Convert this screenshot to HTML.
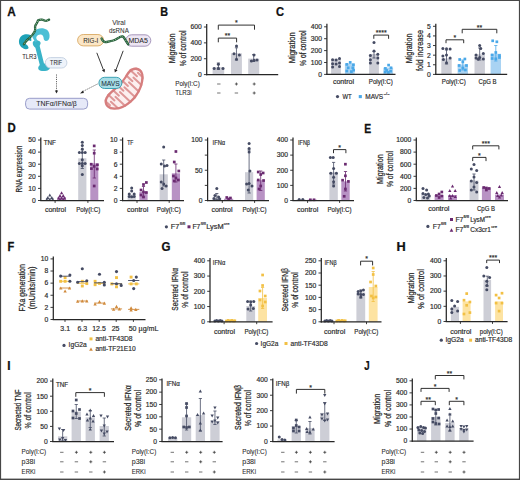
<!DOCTYPE html>
<html><head><meta charset="utf-8"><title>Figure</title>
<style>
html,body{margin:0;padding:0;background:#fff;}
body{width:520px;height:480px;overflow:hidden;}
svg{display:block;font-family:"Liberation Sans", sans-serif;}
</style></head>
<body>
<svg width="520" height="480" viewBox="0 0 520 480">
<rect x="0" y="0" width="520" height="480" fill="#fff"/>
<text x="0" y="0" font-size="12.0" font-weight="bold" fill="#111" stroke="#111" stroke-width="0.25" transform="translate(7.21,15.50) scale(0.981,1)">A</text>
<g>
<path d="M30.9,35.3 C28,33.7 24.5,34 22,35.6 C19.5,37.2 18.5,40.5 19.1,43.3 C19.7,46.2 22.5,48.8 25.7,49.2 C27.3,49.4 28.8,48.6 28.5,47.5 C28.2,46.3 27.6,45.3 26.6,44.7 C25.2,43.8 24.2,42.7 24.6,41.4 C25,40.2 26.4,39.7 27.8,40.1 C29.2,40.5 30.3,41.3 31.4,40.8 Z" fill="#1ea2b7"/>
<path d="M32.8,42.2 C33.6,40.6 35.8,40 37.8,40.4 C39.6,40.8 40.9,41.9 40.6,43.4 C40.4,44.6 39.5,45.4 39.8,46.6 L44,63.6 C46.4,63.8 49.6,65 50,67.2 C50.2,69.2 47.8,70.9 45.2,70.9 C42.8,71.3 39.8,70.9 38.6,69.5 C37.6,68.1 38.6,66.1 39.8,65.1 L35.4,47.8 C33.8,46.6 32.4,44.6 32.8,42.2 Z" fill="#39b3c8"/>
<path d="M32.4,37.2 C32.8,33.5 34.5,30.4 37.5,29 C40.5,27.6 44.5,28 47,29.8 C49,31.4 49.9,34.2 49.5,37.2 C49.2,39.4 48,41.1 46,41.1 C44.5,41.1 43.6,39.7 43.6,38.1 C43.6,36.5 42.6,34.8 41,34.5 C39.2,34.2 37.4,35 36.6,36.6 C35.9,38 36.4,39.5 37.6,40.4 L35.4,42.6 Z" fill="#4cbfd5"/>
<path d="M23.9,44.2 C25.5,41.6 27,40 28.3,39 C30,37.5 31.5,36 32.6,34.6 C33.8,33 34.8,31.8 35.1,30.2 C35.3,28.8 35,27.6 35.1,26.5 C35.3,25 36.4,23.8 37,22.8 C37.5,21.8 37.6,20.8 38.3,20.2 C39.4,19.4 40.8,19.6 42,19.6 C43.3,19.6 44.5,20.9 45.8,20.9 C47,20.9 48,19.8 49.1,19.6" fill="none" stroke="#1f5a37" stroke-width="2.3" stroke-linecap="round"/>
<path d="M23.9,44.2 C25.5,41.6 27,40 28.3,39 C30,37.5 31.5,36 32.6,34.6 C33.8,33 34.8,31.8 35.1,30.2 C35.3,28.8 35,27.6 35.1,26.5 C35.3,25 36.4,23.8 37,22.8 C37.5,21.8 37.6,20.8 38.3,20.2 C39.4,19.4 40.8,19.6 42,19.6 C43.3,19.6 44.5,20.9 45.8,20.9 C47,20.9 48,19.8 49.1,19.6" fill="none" stroke="#b5dcae" stroke-width="0.8" stroke-dasharray="1.0,0.9"/>
</g>
<text x="22.20" y="58.60" font-size="6.6" text-anchor="start" fill="#2a2a2a" font-weight="normal" stroke="#2a2a2a" stroke-width="0.06" textLength="14.2" lengthAdjust="spacingAndGlyphs" >TLR3</text>
<rect x="45.3" y="57.6" width="21.6" height="10.4" rx="5.2" fill="#eef3fa" stroke="#c2cfe0" stroke-width="0.9"/>
<text x="56.10" y="65.20" font-size="6.6" text-anchor="middle" fill="#2a2a2a" font-weight="normal" stroke="#2a2a2a" stroke-width="0.06" textLength="12" lengthAdjust="spacingAndGlyphs" >TRIF</text>
<line x1="56.50" y1="74.50" x2="56.50" y2="91.00" stroke="#333" stroke-width="0.8" stroke-dasharray="1.1,1.1"/>
<polygon points="54.9,90.4 58.1,90.4 56.5,93.6" fill="#222"/>
<rect x="25.6" y="98.3" width="62" height="10.8" rx="4" fill="#e6e9f8" stroke="#8e93c4" stroke-width="0.9"/>
<text x="56.60" y="106.10" font-size="7.2" text-anchor="middle" fill="#2a2a2a" font-weight="normal" stroke="#2a2a2a" stroke-width="0.06" textLength="40.5" lengthAdjust="spacingAndGlyphs" >TNF&#945;/IFN&#945;/&#946;</text>
<text x="118.90" y="25.00" font-size="6.8" text-anchor="middle" fill="#333" font-weight="normal" stroke="#333" stroke-width="0.06" textLength="13.2" lengthAdjust="spacingAndGlyphs" >Viral</text>
<text x="118.90" y="32.60" font-size="6.8" text-anchor="middle" fill="#333" font-weight="normal" stroke="#333" stroke-width="0.06" textLength="19.8" lengthAdjust="spacingAndGlyphs" >dsRNA</text>
<rect x="77.6" y="34.5" width="26" height="11.4" rx="5.7" fill="#fbe6c6" stroke="#d9a963" stroke-width="0.9"/>
<text x="90.80" y="42.80" font-size="7.0" text-anchor="middle" fill="#2a2a2a" font-weight="normal" stroke="#2a2a2a" stroke-width="0.06" textLength="15.0" lengthAdjust="spacingAndGlyphs" >RIG-I</text>
<rect x="125.8" y="34.8" width="25" height="11.4" rx="5.7" fill="#ede6f3" stroke="#9d8cb4" stroke-width="0.9"/>
<text x="138.20" y="43.00" font-size="7.0" text-anchor="middle" fill="#2a2a2a" font-weight="normal" stroke="#2a2a2a" stroke-width="0.06" textLength="19.5" lengthAdjust="spacingAndGlyphs" >MDA5</text>
<path d="M101.6,38.6 C102.4,40.6 103.6,42 105.4,42.1 C107.4,42.2 108.6,41.2 110.4,41.1 C112.2,41 113.2,40.6 114.6,40 C116.4,39.2 117.6,38.2 119.2,37.5 C120.6,36.8 121.6,36 122.6,36.4 C124,37 125,39.2 126.2,41.2 C126.9,42.4 127.6,43.6 128.3,44.3" fill="none" stroke="#1f5a37" stroke-width="2.4" stroke-linecap="round"/>
<path d="M101.6,38.6 C102.4,40.6 103.6,42 105.4,42.1 C107.4,42.2 108.6,41.2 110.4,41.1 C112.2,41 113.2,40.6 114.6,40 C116.4,39.2 117.6,38.2 119.2,37.5 C120.6,36.8 121.6,36 122.6,36.4 C124,37 125,39.2 126.2,41.2 C126.9,42.4 127.6,43.6 128.3,44.3" fill="none" stroke="#b5dcae" stroke-width="0.8" stroke-dasharray="1.0,0.9"/>
<line x1="96.80" y1="52.80" x2="103.40" y2="69.80" stroke="#222" stroke-width="0.9" />
<polygon points="101.9,70.2 105.0,69.0 104.6,72.6" fill="#222"/>
<line x1="123.20" y1="50.80" x2="116.00" y2="69.80" stroke="#222" stroke-width="0.9" />
<polygon points="114.4,69.0 117.6,70.2 114.8,72.6" fill="#222"/>
<clipPath id="mc"><path d="M135,67.6 C139.8,67.3 143.5,71 143.6,76.2 C143.8,83.2 141,91.2 135.5,98.2 C130,104.7 122,109.8 114.5,109.8 C108.3,109.8 104.3,106 104.6,101 C104.9,96.4 108.8,92.4 113.9,88.4 C118.9,84.4 122.4,80.4 125.4,75.4 C127.9,70.9 130.7,67.8 135,67.6 Z"/></clipPath>
<g clip-path="url(#mc)">
<rect x="100" y="62" width="50" height="52" fill="#fcefef"/>
<g transform="translate(124.3,88.6) rotate(-47)">
<rect x="-23.00" y="-16" width="2.0" height="17.8" rx="0.9" fill="#de9898"/>
<rect x="-19.70" y="-1.8" width="2.0" height="17.8" rx="0.9" fill="#de9898"/>
<rect x="-16.40" y="-16" width="2.0" height="17.8" rx="0.9" fill="#de9898"/>
<rect x="-13.10" y="-1.8" width="2.0" height="17.8" rx="0.9" fill="#de9898"/>
<rect x="-9.80" y="-16" width="2.0" height="17.8" rx="0.9" fill="#de9898"/>
<rect x="-6.50" y="-1.8" width="2.0" height="17.8" rx="0.9" fill="#de9898"/>
<rect x="-3.20" y="-16" width="2.0" height="17.8" rx="0.9" fill="#de9898"/>
<rect x="0.10" y="-1.8" width="2.0" height="17.8" rx="0.9" fill="#de9898"/>
<rect x="3.40" y="-16" width="2.0" height="17.8" rx="0.9" fill="#de9898"/>
<rect x="6.70" y="-1.8" width="2.0" height="17.8" rx="0.9" fill="#de9898"/>
<rect x="10.00" y="-16" width="2.0" height="17.8" rx="0.9" fill="#de9898"/>
<rect x="13.30" y="-1.8" width="2.0" height="17.8" rx="0.9" fill="#de9898"/>
<rect x="16.60" y="-16" width="2.0" height="17.8" rx="0.9" fill="#de9898"/>
<rect x="19.90" y="-1.8" width="2.0" height="17.8" rx="0.9" fill="#de9898"/>
<rect x="23.20" y="-16" width="2.0" height="17.8" rx="0.9" fill="#de9898"/>
</g>
<path d="M135,67.6 C139.8,67.3 143.5,71 143.6,76.2 C143.8,83.2 141,91.2 135.5,98.2 C130,104.7 122,109.8 114.5,109.8 C108.3,109.8 104.3,106 104.6,101 C104.9,96.4 108.8,92.4 113.9,88.4 C118.9,84.4 122.4,80.4 125.4,75.4 C127.9,70.9 130.7,67.8 135,67.6 Z" fill="none" stroke="#d67e7e" stroke-width="4.6"/>
</g>
<rect x="98.9" y="77.3" width="23" height="11.2" rx="5.6" fill="#a7dde6" stroke="#2d9aad" stroke-width="0.9"/>
<text x="110.40" y="85.60" font-size="7.2" text-anchor="middle" fill="#1f3440" font-weight="normal" stroke="#1f3440" stroke-width="0.06" textLength="18.5" lengthAdjust="spacingAndGlyphs" >MAVS</text>
<line x1="97.50" y1="84.00" x2="82.20" y2="91.80" stroke="#333" stroke-width="0.8" stroke-dasharray="1.1,1.1"/>
<polygon points="80.0,93.4 82.9,90.4 83.9,93.0" fill="#222"/>
<text x="0" y="0" font-size="12.0" font-weight="bold" fill="#111" stroke="#111" stroke-width="0.25" transform="translate(160.18,15.50) scale(0.902,1)">B</text>
<text x="0" y="0" font-size="9.2" text-anchor="middle" fill="#2b2b2b" stroke="#2b2b2b" stroke-width="0.25" transform="translate(175.00,48.30) rotate(-90)" textLength="29.8" lengthAdjust="spacingAndGlyphs">Migration</text>
<text x="0" y="0" font-size="9.2" text-anchor="middle" fill="#2b2b2b" stroke="#2b2b2b" stroke-width="0.25" transform="translate(185.50,48.40) rotate(-90)" textLength="35.8" lengthAdjust="spacingAndGlyphs">% of control</text>
<rect x="212.60" y="67.20" width="11.60" height="7.40" fill="#cdced6" />
<line x1="218.40" y1="63.00" x2="218.40" y2="69.50" stroke="#454b63" stroke-width="0.8" />
<line x1="216.80" y1="63.00" x2="220.00" y2="63.00" stroke="#454b63" stroke-width="0.8" />
<line x1="216.80" y1="69.50" x2="220.00" y2="69.50" stroke="#454b63" stroke-width="0.8" />
<circle cx="214.20" cy="68.40" r="1.5" fill="#454b63"/>
<circle cx="218.40" cy="64.30" r="1.5" fill="#454b63"/>
<circle cx="223.00" cy="68.40" r="1.5" fill="#454b63"/>
<circle cx="218.40" cy="68.20" r="1.5" fill="#454b63"/>
<rect x="231.00" y="53.30" width="10.90" height="21.30" fill="#cdced6" />
<line x1="236.45" y1="47.80" x2="236.45" y2="60.00" stroke="#454b63" stroke-width="0.8" />
<line x1="234.85" y1="47.80" x2="238.05" y2="47.80" stroke="#454b63" stroke-width="0.8" />
<line x1="234.85" y1="60.00" x2="238.05" y2="60.00" stroke="#454b63" stroke-width="0.8" />
<circle cx="236.50" cy="46.00" r="1.5" fill="#454b63"/>
<circle cx="234.00" cy="53.80" r="1.5" fill="#454b63"/>
<circle cx="239.40" cy="55.00" r="1.5" fill="#454b63"/>
<circle cx="236.50" cy="59.30" r="1.5" fill="#454b63"/>
<rect x="248.20" y="58.60" width="11.00" height="16.00" fill="#cdced6" />
<line x1="253.70" y1="54.60" x2="253.70" y2="61.50" stroke="#454b63" stroke-width="0.8" />
<line x1="252.10" y1="54.60" x2="255.30" y2="54.60" stroke="#454b63" stroke-width="0.8" />
<line x1="252.10" y1="61.50" x2="255.30" y2="61.50" stroke="#454b63" stroke-width="0.8" />
<circle cx="254.00" cy="55.00" r="1.5" fill="#454b63"/>
<circle cx="251.40" cy="61.00" r="1.5" fill="#454b63"/>
<circle cx="257.00" cy="59.90" r="1.5" fill="#454b63"/>
<circle cx="254.00" cy="60.20" r="1.5" fill="#454b63"/>
<line x1="206.70" y1="24.00" x2="206.70" y2="75.22" stroke="#262626" stroke-width="1.25" />
<line x1="206.07" y1="74.60" x2="278.20" y2="74.60" stroke="#262626" stroke-width="1.25" />
<line x1="203.90" y1="74.60" x2="206.70" y2="74.60" stroke="#262626" stroke-width="0.9" />
<text x="201.70" y="76.94" font-size="6.5" text-anchor="end" fill="#2b2b2b" font-weight="normal" stroke="#2b2b2b" stroke-width="0.18" textLength="3.75" lengthAdjust="spacingAndGlyphs" >0</text>
<line x1="203.90" y1="58.73" x2="206.70" y2="58.73" stroke="#262626" stroke-width="0.9" />
<text x="201.70" y="61.07" font-size="6.5" text-anchor="end" fill="#2b2b2b" font-weight="normal" stroke="#2b2b2b" stroke-width="0.18" textLength="11.25" lengthAdjust="spacingAndGlyphs" >200</text>
<line x1="203.90" y1="42.87" x2="206.70" y2="42.87" stroke="#262626" stroke-width="0.9" />
<text x="201.70" y="45.21" font-size="6.5" text-anchor="end" fill="#2b2b2b" font-weight="normal" stroke="#2b2b2b" stroke-width="0.18" textLength="11.25" lengthAdjust="spacingAndGlyphs" >400</text>
<line x1="203.90" y1="27.00" x2="206.70" y2="27.00" stroke="#262626" stroke-width="0.9" />
<text x="201.70" y="29.34" font-size="6.5" text-anchor="end" fill="#2b2b2b" font-weight="normal" stroke="#2b2b2b" stroke-width="0.18" textLength="11.25" lengthAdjust="spacingAndGlyphs" >600</text>
<polyline points="218.30,42.30 218.30,38.10 236.60,38.10 236.60,42.30" fill="none" stroke="#262626" stroke-width="0.95"/>
<text x="227.45" y="38.30" font-size="7" text-anchor="middle" fill="#2b2b2b" font-weight="normal" stroke="#2b2b2b" stroke-width="0.18" >**</text>
<polyline points="218.30,29.70 218.30,25.10 254.50,25.10 254.50,29.70" fill="none" stroke="#262626" stroke-width="0.95"/>
<text x="236.40" y="25.30" font-size="7" text-anchor="middle" fill="#2b2b2b" font-weight="normal" stroke="#2b2b2b" stroke-width="0.18" >*</text>
<text x="175.20" y="85.90" font-size="6.5" text-anchor="start" fill="#2b2b2b" font-weight="normal" stroke="#2b2b2b" stroke-width="0.08" textLength="24.6" lengthAdjust="spacingAndGlyphs" >Poly(I:C)</text>
<text x="175.20" y="94.80" font-size="6.5" text-anchor="start" fill="#2b2b2b" font-weight="normal" stroke="#2b2b2b" stroke-width="0.08" textLength="16.4" lengthAdjust="spacingAndGlyphs" >TLR3i</text>
<line x1="217.10" y1="84.00" x2="220.50" y2="84.00" stroke="#444" stroke-width="0.75" />
<line x1="217.10" y1="93.00" x2="220.50" y2="93.00" stroke="#444" stroke-width="0.75" />
<line x1="234.90" y1="84.00" x2="237.90" y2="84.00" stroke="#333" stroke-width="0.75" />
<line x1="236.40" y1="82.50" x2="236.40" y2="85.50" stroke="#333" stroke-width="0.75" />
<line x1="234.70" y1="93.00" x2="238.10" y2="93.00" stroke="#444" stroke-width="0.75" />
<line x1="252.70" y1="84.00" x2="255.70" y2="84.00" stroke="#333" stroke-width="0.75" />
<line x1="254.20" y1="82.50" x2="254.20" y2="85.50" stroke="#333" stroke-width="0.75" />
<line x1="252.70" y1="93.00" x2="255.70" y2="93.00" stroke="#333" stroke-width="0.75" />
<line x1="254.20" y1="91.50" x2="254.20" y2="94.50" stroke="#333" stroke-width="0.75" />
<text x="0" y="0" font-size="12.0" font-weight="bold" fill="#111" stroke="#111" stroke-width="0.25" transform="translate(275.94,15.60) scale(0.930,1)">C</text>
<text x="0" y="0" font-size="9.2" text-anchor="middle" fill="#2b2b2b" stroke="#2b2b2b" stroke-width="0.25" transform="translate(295.00,47.80) rotate(-90)" textLength="31.0" lengthAdjust="spacingAndGlyphs">Migration</text>
<text x="0" y="0" font-size="9.2" text-anchor="middle" fill="#2b2b2b" stroke="#2b2b2b" stroke-width="0.25" transform="translate(305.50,48.20) rotate(-90)" textLength="35.4" lengthAdjust="spacingAndGlyphs">% of control</text>
<rect x="331.10" y="58.80" width="9.80" height="15.60" fill="#cdced6" />
<circle cx="332.60" cy="59.70" r="1.5" fill="#454b63"/>
<circle cx="336.10" cy="60.00" r="1.5" fill="#454b63"/>
<circle cx="339.50" cy="58.60" r="1.5" fill="#454b63"/>
<circle cx="332.60" cy="63.70" r="1.5" fill="#454b63"/>
<circle cx="336.10" cy="63.90" r="1.5" fill="#454b63"/>
<circle cx="339.50" cy="63.00" r="1.5" fill="#454b63"/>
<circle cx="332.60" cy="67.10" r="1.5" fill="#454b63"/>
<circle cx="339.50" cy="66.40" r="1.5" fill="#454b63"/>
<rect x="344.90" y="63.50" width="9.80" height="10.90" fill="#a9d3f3" />
<rect x="348.85" y="61.05" width="2.7" height="2.7" fill="#4aa8e8"/>
<rect x="345.45" y="63.05" width="2.7" height="2.7" fill="#4aa8e8"/>
<rect x="352.05" y="63.45" width="2.7" height="2.7" fill="#4aa8e8"/>
<rect x="346.85" y="66.45" width="2.7" height="2.7" fill="#4aa8e8"/>
<rect x="351.45" y="66.45" width="2.7" height="2.7" fill="#4aa8e8"/>
<rect x="345.45" y="69.65" width="2.7" height="2.7" fill="#4aa8e8"/>
<rect x="350.05" y="70.25" width="2.7" height="2.7" fill="#4aa8e8"/>
<rect x="352.25" y="68.85" width="2.7" height="2.7" fill="#4aa8e8"/>
<rect x="369.10" y="54.00" width="9.80" height="20.40" fill="#cdced6" />
<line x1="374.00" y1="51.50" x2="374.00" y2="58.00" stroke="#454b63" stroke-width="0.8" />
<line x1="372.40" y1="51.50" x2="375.60" y2="51.50" stroke="#454b63" stroke-width="0.8" />
<line x1="372.40" y1="58.00" x2="375.60" y2="58.00" stroke="#454b63" stroke-width="0.8" />
<circle cx="374.00" cy="42.50" r="1.5" fill="#454b63"/>
<circle cx="374.00" cy="50.90" r="1.5" fill="#454b63"/>
<circle cx="370.40" cy="55.60" r="1.5" fill="#454b63"/>
<circle cx="377.80" cy="54.30" r="1.5" fill="#454b63"/>
<circle cx="370.40" cy="59.70" r="1.5" fill="#454b63"/>
<circle cx="377.80" cy="58.10" r="1.5" fill="#454b63"/>
<circle cx="370.40" cy="63.10" r="1.5" fill="#454b63"/>
<circle cx="377.80" cy="63.10" r="1.5" fill="#454b63"/>
<rect x="383.30" y="67.60" width="9.80" height="6.80" fill="#a9d3f3" />
<rect x="387.25" y="63.75" width="2.7" height="2.7" fill="#4aa8e8"/>
<rect x="384.05" y="67.05" width="2.7" height="2.7" fill="#4aa8e8"/>
<rect x="389.65" y="66.45" width="2.7" height="2.7" fill="#4aa8e8"/>
<rect x="385.25" y="69.05" width="2.7" height="2.7" fill="#4aa8e8"/>
<rect x="389.25" y="69.85" width="2.7" height="2.7" fill="#4aa8e8"/>
<rect x="383.85" y="70.65" width="2.7" height="2.7" fill="#4aa8e8"/>
<rect x="387.05" y="71.05" width="2.7" height="2.7" fill="#4aa8e8"/>
<line x1="326.90" y1="23.80" x2="326.90" y2="75.03" stroke="#262626" stroke-width="1.25" />
<line x1="326.27" y1="74.40" x2="395.50" y2="74.40" stroke="#262626" stroke-width="1.25" />
<line x1="324.10" y1="74.40" x2="326.90" y2="74.40" stroke="#262626" stroke-width="0.9" />
<text x="321.90" y="76.74" font-size="6.5" text-anchor="end" fill="#2b2b2b" font-weight="normal" stroke="#2b2b2b" stroke-width="0.18" textLength="3.75" lengthAdjust="spacingAndGlyphs" >0</text>
<line x1="324.10" y1="62.50" x2="326.90" y2="62.50" stroke="#262626" stroke-width="0.9" />
<text x="321.90" y="64.84" font-size="6.5" text-anchor="end" fill="#2b2b2b" font-weight="normal" stroke="#2b2b2b" stroke-width="0.18" textLength="11.25" lengthAdjust="spacingAndGlyphs" >100</text>
<line x1="324.10" y1="50.60" x2="326.90" y2="50.60" stroke="#262626" stroke-width="0.9" />
<text x="321.90" y="52.94" font-size="6.5" text-anchor="end" fill="#2b2b2b" font-weight="normal" stroke="#2b2b2b" stroke-width="0.18" textLength="11.25" lengthAdjust="spacingAndGlyphs" >200</text>
<line x1="324.10" y1="38.70" x2="326.90" y2="38.70" stroke="#262626" stroke-width="0.9" />
<text x="321.90" y="41.04" font-size="6.5" text-anchor="end" fill="#2b2b2b" font-weight="normal" stroke="#2b2b2b" stroke-width="0.18" textLength="11.25" lengthAdjust="spacingAndGlyphs" >300</text>
<line x1="324.10" y1="26.80" x2="326.90" y2="26.80" stroke="#262626" stroke-width="0.9" />
<text x="321.90" y="29.14" font-size="6.5" text-anchor="end" fill="#2b2b2b" font-weight="normal" stroke="#2b2b2b" stroke-width="0.18" textLength="11.25" lengthAdjust="spacingAndGlyphs" >400</text>
<polyline points="373.80,38.80 373.80,35.10 388.60,35.10 388.60,38.80" fill="none" stroke="#262626" stroke-width="0.95"/>
<text x="381.20" y="35.30" font-size="7" text-anchor="middle" fill="#2b2b2b" font-weight="normal" stroke="#2b2b2b" stroke-width="0.18" >****</text>
<text x="343.50" y="84.00" font-size="7.0" text-anchor="middle" fill="#2b2b2b" font-weight="normal" stroke="#2b2b2b" stroke-width="0.18" textLength="21.2" lengthAdjust="spacingAndGlyphs" >control</text>
<text x="380.80" y="84.00" font-size="7.0" text-anchor="middle" fill="#2b2b2b" font-weight="normal" stroke="#2b2b2b" stroke-width="0.18" textLength="24.0" lengthAdjust="spacingAndGlyphs" >Poly(I:C)</text>
<circle cx="337.50" cy="96.60" r="1.6" fill="#454b63"/>
<text x="342.40" y="98.60" font-size="7.0" text-anchor="start" fill="#2b2b2b" font-weight="normal" stroke="#2b2b2b" stroke-width="0.18" textLength="9.2" lengthAdjust="spacingAndGlyphs" >WT</text>
<rect x="358.75" y="95.05" width="3.1" height="3.1" fill="#4aa8e8"/>
<text x="365.30" y="98.60" font-size="7.0" text-anchor="start" fill="#2b2b2b" font-weight="normal" stroke="#2b2b2b" stroke-width="0.18" textLength="17.9" lengthAdjust="spacingAndGlyphs" >MAVS</text>
<text x="383.80" y="94.90" font-size="4.0" text-anchor="start" fill="#2b2b2b" font-weight="normal" stroke="#2b2b2b" stroke-width="0.18" textLength="5.6" lengthAdjust="spacingAndGlyphs" >&#8211;/&#8211;</text>
<text x="0" y="0" font-size="9.2" text-anchor="middle" fill="#2b2b2b" stroke="#2b2b2b" stroke-width="0.25" transform="translate(411.60,48.40) rotate(-90)" textLength="29.8" lengthAdjust="spacingAndGlyphs">Migration</text>
<text x="0" y="0" font-size="9.2" text-anchor="middle" fill="#2b2b2b" stroke="#2b2b2b" stroke-width="0.25" transform="translate(422.80,50.60) rotate(-90)" textLength="41.0" lengthAdjust="spacingAndGlyphs">fold increase</text>
<rect x="441.30" y="58.40" width="10.40" height="16.00" fill="#cdced6" />
<line x1="446.50" y1="50.00" x2="446.50" y2="64.00" stroke="#454b63" stroke-width="0.8" />
<line x1="444.90" y1="50.00" x2="448.10" y2="50.00" stroke="#454b63" stroke-width="0.8" />
<line x1="444.90" y1="64.00" x2="448.10" y2="64.00" stroke="#454b63" stroke-width="0.8" />
<circle cx="442.86" cy="48.50" r="1.5" fill="#454b63"/>
<circle cx="446.50" cy="48.80" r="1.5" fill="#454b63"/>
<circle cx="450.14" cy="49.00" r="1.5" fill="#454b63"/>
<circle cx="442.86" cy="56.00" r="1.5" fill="#454b63"/>
<circle cx="446.50" cy="55.00" r="1.5" fill="#454b63"/>
<circle cx="450.14" cy="58.00" r="1.5" fill="#454b63"/>
<circle cx="446.50" cy="62.80" r="1.5" fill="#454b63"/>
<circle cx="443.38" cy="59.50" r="1.5" fill="#454b63"/>
<rect x="457.60" y="64.40" width="10.40" height="10.00" fill="#a9d3f3" />
<line x1="462.80" y1="60.00" x2="462.80" y2="70.00" stroke="#4aa8e8" stroke-width="0.8" />
<line x1="461.20" y1="60.00" x2="464.40" y2="60.00" stroke="#4aa8e8" stroke-width="0.8" />
<line x1="461.20" y1="70.00" x2="464.40" y2="70.00" stroke="#4aa8e8" stroke-width="0.8" />
<rect x="458.33" y="58.15" width="2.7" height="2.7" fill="#4aa8e8"/>
<rect x="463.53" y="57.65" width="2.7" height="2.7" fill="#4aa8e8"/>
<rect x="461.45" y="60.65" width="2.7" height="2.7" fill="#4aa8e8"/>
<rect x="457.81" y="64.15" width="2.7" height="2.7" fill="#4aa8e8"/>
<rect x="465.09" y="64.15" width="2.7" height="2.7" fill="#4aa8e8"/>
<rect x="461.45" y="66.65" width="2.7" height="2.7" fill="#4aa8e8"/>
<rect x="458.33" y="69.15" width="2.7" height="2.7" fill="#4aa8e8"/>
<rect x="464.05" y="68.65" width="2.7" height="2.7" fill="#4aa8e8"/>
<rect x="474.50" y="54.40" width="10.40" height="20.00" fill="#cdced6" />
<line x1="479.70" y1="48.00" x2="479.70" y2="60.00" stroke="#454b63" stroke-width="0.8" />
<line x1="478.10" y1="48.00" x2="481.30" y2="48.00" stroke="#454b63" stroke-width="0.8" />
<line x1="478.10" y1="60.00" x2="481.30" y2="60.00" stroke="#454b63" stroke-width="0.8" />
<circle cx="479.70" cy="45.50" r="1.5" fill="#454b63"/>
<circle cx="480.74" cy="48.50" r="1.5" fill="#454b63"/>
<circle cx="476.06" cy="55.00" r="1.5" fill="#454b63"/>
<circle cx="483.34" cy="53.50" r="1.5" fill="#454b63"/>
<circle cx="476.06" cy="58.00" r="1.5" fill="#454b63"/>
<circle cx="479.70" cy="57.50" r="1.5" fill="#454b63"/>
<circle cx="483.34" cy="59.00" r="1.5" fill="#454b63"/>
<circle cx="478.14" cy="59.20" r="1.5" fill="#454b63"/>
<rect x="490.60" y="53.80" width="10.40" height="20.60" fill="#a9d3f3" />
<line x1="495.80" y1="45.50" x2="495.80" y2="61.00" stroke="#4aa8e8" stroke-width="0.8" />
<line x1="494.20" y1="45.50" x2="497.40" y2="45.50" stroke="#4aa8e8" stroke-width="0.8" />
<line x1="494.20" y1="61.00" x2="497.40" y2="61.00" stroke="#4aa8e8" stroke-width="0.8" />
<rect x="491.33" y="39.45" width="2.7" height="2.7" fill="#4aa8e8"/>
<rect x="495.49" y="40.45" width="2.7" height="2.7" fill="#4aa8e8"/>
<rect x="494.45" y="51.15" width="2.7" height="2.7" fill="#4aa8e8"/>
<rect x="490.81" y="53.65" width="2.7" height="2.7" fill="#4aa8e8"/>
<rect x="498.09" y="54.15" width="2.7" height="2.7" fill="#4aa8e8"/>
<rect x="490.81" y="57.15" width="2.7" height="2.7" fill="#4aa8e8"/>
<rect x="494.45" y="57.45" width="2.7" height="2.7" fill="#4aa8e8"/>
<rect x="498.09" y="56.15" width="2.7" height="2.7" fill="#4aa8e8"/>
<line x1="435.80" y1="23.80" x2="435.80" y2="75.03" stroke="#262626" stroke-width="1.25" />
<line x1="435.18" y1="74.40" x2="507.20" y2="74.40" stroke="#262626" stroke-width="1.25" />
<line x1="433.00" y1="74.40" x2="435.80" y2="74.40" stroke="#262626" stroke-width="0.9" />
<text x="430.80" y="76.74" font-size="6.5" text-anchor="end" fill="#2b2b2b" font-weight="normal" stroke="#2b2b2b" stroke-width="0.18" textLength="3.75" lengthAdjust="spacingAndGlyphs" >0</text>
<line x1="433.00" y1="64.78" x2="435.80" y2="64.78" stroke="#262626" stroke-width="0.9" />
<text x="430.80" y="67.12" font-size="6.5" text-anchor="end" fill="#2b2b2b" font-weight="normal" stroke="#2b2b2b" stroke-width="0.18" textLength="3.75" lengthAdjust="spacingAndGlyphs" >1</text>
<line x1="433.00" y1="55.16" x2="435.80" y2="55.16" stroke="#262626" stroke-width="0.9" />
<text x="430.80" y="57.50" font-size="6.5" text-anchor="end" fill="#2b2b2b" font-weight="normal" stroke="#2b2b2b" stroke-width="0.18" textLength="3.75" lengthAdjust="spacingAndGlyphs" >2</text>
<line x1="433.00" y1="45.54" x2="435.80" y2="45.54" stroke="#262626" stroke-width="0.9" />
<text x="430.80" y="47.88" font-size="6.5" text-anchor="end" fill="#2b2b2b" font-weight="normal" stroke="#2b2b2b" stroke-width="0.18" textLength="3.75" lengthAdjust="spacingAndGlyphs" >3</text>
<line x1="433.00" y1="35.92" x2="435.80" y2="35.92" stroke="#262626" stroke-width="0.9" />
<text x="430.80" y="38.26" font-size="6.5" text-anchor="end" fill="#2b2b2b" font-weight="normal" stroke="#2b2b2b" stroke-width="0.18" textLength="3.75" lengthAdjust="spacingAndGlyphs" >4</text>
<line x1="433.00" y1="26.30" x2="435.80" y2="26.30" stroke="#262626" stroke-width="0.9" />
<text x="430.80" y="28.64" font-size="6.5" text-anchor="end" fill="#2b2b2b" font-weight="normal" stroke="#2b2b2b" stroke-width="0.18" textLength="3.75" lengthAdjust="spacingAndGlyphs" >5</text>
<polyline points="446.00,43.20 446.00,39.80 463.70,39.80 463.70,43.20" fill="none" stroke="#262626" stroke-width="0.95"/>
<text x="454.85" y="40.00" font-size="7" text-anchor="middle" fill="#2b2b2b" font-weight="normal" stroke="#2b2b2b" stroke-width="0.18" >*</text>
<polyline points="462.20,33.30 462.20,29.30 496.80,29.30 496.80,33.30" fill="none" stroke="#262626" stroke-width="0.95"/>
<text x="479.50" y="29.50" font-size="7" text-anchor="middle" fill="#2b2b2b" font-weight="normal" stroke="#2b2b2b" stroke-width="0.18" >**</text>
<text x="453.80" y="84.00" font-size="7.0" text-anchor="middle" fill="#2b2b2b" font-weight="normal" stroke="#2b2b2b" stroke-width="0.18" textLength="24.0" lengthAdjust="spacingAndGlyphs" >Poly(I:C)</text>
<text x="487.60" y="84.00" font-size="7.0" text-anchor="middle" fill="#2b2b2b" font-weight="normal" stroke="#2b2b2b" stroke-width="0.18" textLength="18.0" lengthAdjust="spacingAndGlyphs" >CpG B</text>
<text x="0" y="0" font-size="12.0" font-weight="bold" fill="#111" stroke="#111" stroke-width="0.25" transform="translate(7.53,132.40) scale(0.952,1)">D</text>
<text x="0" y="0" font-size="9.2" text-anchor="middle" fill="#2b2b2b" stroke="#2b2b2b" stroke-width="0.25" transform="translate(21.60,169.00) rotate(-90)" textLength="46.8" lengthAdjust="spacingAndGlyphs">RNA expression</text>
<rect x="45.80" y="197.80" width="8.10" height="2.70" fill="#cdced6" />
<polygon points="48.15,196.49 51.45,196.49 49.80,193.51" fill="#454b63"/>
<polygon points="46.15,199.09 49.45,199.09 47.80,196.11" fill="#454b63"/>
<polygon points="50.15,199.09 53.45,199.09 51.80,196.11" fill="#454b63"/>
<polygon points="45.15,200.89 48.45,200.89 46.80,197.91" fill="#454b63"/>
<polygon points="48.15,200.89 51.45,200.89 49.80,197.91" fill="#454b63"/>
<polygon points="51.15,200.89 54.45,200.89 52.80,197.91" fill="#454b63"/>
<rect x="57.50" y="197.00" width="8.40" height="3.50" fill="#b892c4" />
<polygon points="59.95,194.29 63.25,194.29 61.60,191.31" fill="#6a2a70"/>
<polygon points="58.35,196.99 61.65,196.99 60.00,194.01" fill="#6a2a70"/>
<polygon points="61.55,196.99 64.85,196.99 63.20,194.01" fill="#6a2a70"/>
<polygon points="56.95,199.49 60.25,199.49 58.60,196.51" fill="#6a2a70"/>
<polygon points="59.95,199.49 63.25,199.49 61.60,196.51" fill="#6a2a70"/>
<polygon points="62.95,199.49 66.25,199.49 64.60,196.51" fill="#6a2a70"/>
<polygon points="58.35,201.09 61.65,201.09 60.00,198.11" fill="#6a2a70"/>
<polygon points="61.55,201.09 64.85,201.09 63.20,198.11" fill="#6a2a70"/>
<rect x="78.20" y="158.30" width="8.20" height="42.20" fill="#cdced6" />
<line x1="82.30" y1="149.80" x2="82.30" y2="168.50" stroke="#454b63" stroke-width="0.8" />
<line x1="80.70" y1="149.80" x2="83.90" y2="149.80" stroke="#454b63" stroke-width="0.8" />
<line x1="80.70" y1="168.50" x2="83.90" y2="168.50" stroke="#454b63" stroke-width="0.8" />
<circle cx="82.30" cy="142.30" r="1.5" fill="#454b63"/>
<circle cx="82.30" cy="145.40" r="1.5" fill="#454b63"/>
<circle cx="82.30" cy="148.90" r="1.5" fill="#454b63"/>
<circle cx="79.40" cy="152.50" r="1.5" fill="#454b63"/>
<circle cx="82.30" cy="152.50" r="1.5" fill="#454b63"/>
<circle cx="85.20" cy="152.50" r="1.5" fill="#454b63"/>
<circle cx="82.30" cy="159.80" r="1.5" fill="#454b63"/>
<circle cx="79.40" cy="163.40" r="1.5" fill="#454b63"/>
<circle cx="82.30" cy="163.40" r="1.5" fill="#454b63"/>
<circle cx="85.20" cy="163.40" r="1.5" fill="#454b63"/>
<circle cx="82.30" cy="165.80" r="1.5" fill="#454b63"/>
<circle cx="82.30" cy="174.40" r="1.5" fill="#454b63"/>
<rect x="90.30" y="163.40" width="8.00" height="37.10" fill="#b892c4" />
<line x1="94.30" y1="150.00" x2="94.30" y2="178.00" stroke="#6a2a70" stroke-width="0.8" />
<line x1="92.70" y1="150.00" x2="95.90" y2="150.00" stroke="#6a2a70" stroke-width="0.8" />
<line x1="92.70" y1="178.00" x2="95.90" y2="178.00" stroke="#6a2a70" stroke-width="0.8" />
<rect x="92.85" y="144.55" width="2.7" height="2.7" fill="#6a2a70"/>
<rect x="92.85" y="151.85" width="2.7" height="2.7" fill="#6a2a70"/>
<rect x="89.85" y="162.85" width="2.7" height="2.7" fill="#6a2a70"/>
<rect x="96.05" y="163.45" width="2.7" height="2.7" fill="#6a2a70"/>
<rect x="92.85" y="165.05" width="2.7" height="2.7" fill="#6a2a70"/>
<rect x="90.05" y="167.25" width="2.7" height="2.7" fill="#6a2a70"/>
<rect x="95.85" y="167.65" width="2.7" height="2.7" fill="#6a2a70"/>
<rect x="92.85" y="184.65" width="2.7" height="2.7" fill="#6a2a70"/>
<line x1="40.80" y1="137.50" x2="40.80" y2="201.12" stroke="#262626" stroke-width="1.25" />
<line x1="40.17" y1="200.50" x2="104.00" y2="200.50" stroke="#262626" stroke-width="1.25" />
<line x1="38.00" y1="200.50" x2="40.80" y2="200.50" stroke="#262626" stroke-width="0.9" />
<text x="35.80" y="202.84" font-size="6.5" text-anchor="end" fill="#2b2b2b" font-weight="normal" stroke="#2b2b2b" stroke-width="0.18" textLength="3.75" lengthAdjust="spacingAndGlyphs" >0</text>
<line x1="38.00" y1="188.40" x2="40.80" y2="188.40" stroke="#262626" stroke-width="0.9" />
<text x="35.80" y="190.74" font-size="6.5" text-anchor="end" fill="#2b2b2b" font-weight="normal" stroke="#2b2b2b" stroke-width="0.18" textLength="7.5" lengthAdjust="spacingAndGlyphs" >10</text>
<line x1="38.00" y1="176.30" x2="40.80" y2="176.30" stroke="#262626" stroke-width="0.9" />
<text x="35.80" y="178.64" font-size="6.5" text-anchor="end" fill="#2b2b2b" font-weight="normal" stroke="#2b2b2b" stroke-width="0.18" textLength="7.5" lengthAdjust="spacingAndGlyphs" >20</text>
<line x1="38.00" y1="164.20" x2="40.80" y2="164.20" stroke="#262626" stroke-width="0.9" />
<text x="35.80" y="166.54" font-size="6.5" text-anchor="end" fill="#2b2b2b" font-weight="normal" stroke="#2b2b2b" stroke-width="0.18" textLength="7.5" lengthAdjust="spacingAndGlyphs" >30</text>
<line x1="38.00" y1="152.10" x2="40.80" y2="152.10" stroke="#262626" stroke-width="0.9" />
<text x="35.80" y="154.44" font-size="6.5" text-anchor="end" fill="#2b2b2b" font-weight="normal" stroke="#2b2b2b" stroke-width="0.18" textLength="7.5" lengthAdjust="spacingAndGlyphs" >40</text>
<line x1="38.00" y1="140.00" x2="40.80" y2="140.00" stroke="#262626" stroke-width="0.9" />
<text x="35.80" y="142.34" font-size="6.5" text-anchor="end" fill="#2b2b2b" font-weight="normal" stroke="#2b2b2b" stroke-width="0.18" textLength="7.5" lengthAdjust="spacingAndGlyphs" >50</text>
<line x1="55.10" y1="200.50" x2="55.10" y2="202.90" stroke="#262626" stroke-width="0.9" />
<line x1="87.90" y1="200.50" x2="87.90" y2="202.90" stroke="#262626" stroke-width="0.9" />
<text x="43.70" y="145.40" font-size="6.6" text-anchor="start" fill="#2b2b2b" font-weight="normal" stroke="#2b2b2b" stroke-width="0.18" textLength="12.3" lengthAdjust="spacingAndGlyphs" >TNF</text>
<text x="55.50" y="212.20" font-size="7.0" text-anchor="middle" fill="#2b2b2b" font-weight="normal" stroke="#2b2b2b" stroke-width="0.18" textLength="21.2" lengthAdjust="spacingAndGlyphs" >control</text>
<text x="88.20" y="212.20" font-size="7.0" text-anchor="middle" fill="#2b2b2b" font-weight="normal" stroke="#2b2b2b" stroke-width="0.18" textLength="24.0" lengthAdjust="spacingAndGlyphs" >Poly(I:C)</text>
<rect x="127.60" y="194.60" width="8.20" height="5.90" fill="#cdced6" />
<circle cx="131.70" cy="188.00" r="1.5" fill="#454b63"/>
<circle cx="131.70" cy="191.00" r="1.5" fill="#454b63"/>
<circle cx="129.24" cy="194.00" r="1.5" fill="#454b63"/>
<circle cx="134.16" cy="194.00" r="1.5" fill="#454b63"/>
<circle cx="129.24" cy="196.50" r="1.5" fill="#454b63"/>
<circle cx="131.70" cy="196.80" r="1.5" fill="#454b63"/>
<circle cx="134.16" cy="196.50" r="1.5" fill="#454b63"/>
<rect x="139.40" y="192.00" width="8.20" height="8.50" fill="#b892c4" />
<line x1="143.50" y1="186.50" x2="143.50" y2="197.00" stroke="#6a2a70" stroke-width="0.8" />
<line x1="141.90" y1="186.50" x2="145.10" y2="186.50" stroke="#6a2a70" stroke-width="0.8" />
<line x1="141.90" y1="197.00" x2="145.10" y2="197.00" stroke="#6a2a70" stroke-width="0.8" />
<rect x="145.02" y="181.15" width="2.7" height="2.7" fill="#6a2a70"/>
<rect x="142.15" y="183.15" width="2.7" height="2.7" fill="#6a2a70"/>
<rect x="139.69" y="188.65" width="2.7" height="2.7" fill="#6a2a70"/>
<rect x="142.15" y="190.65" width="2.7" height="2.7" fill="#6a2a70"/>
<rect x="145.02" y="191.15" width="2.7" height="2.7" fill="#6a2a70"/>
<rect x="139.69" y="193.65" width="2.7" height="2.7" fill="#6a2a70"/>
<rect x="142.15" y="195.65" width="2.7" height="2.7" fill="#6a2a70"/>
<rect x="159.60" y="174.30" width="8.20" height="26.20" fill="#cdced6" />
<line x1="163.70" y1="160.00" x2="163.70" y2="186.00" stroke="#454b63" stroke-width="0.8" />
<line x1="162.10" y1="160.00" x2="165.30" y2="160.00" stroke="#454b63" stroke-width="0.8" />
<line x1="162.10" y1="186.00" x2="165.30" y2="186.00" stroke="#454b63" stroke-width="0.8" />
<circle cx="163.70" cy="147.00" r="1.5" fill="#454b63"/>
<circle cx="161.24" cy="164.00" r="1.5" fill="#454b63"/>
<circle cx="164.52" cy="166.00" r="1.5" fill="#454b63"/>
<circle cx="166.98" cy="165.50" r="1.5" fill="#454b63"/>
<circle cx="161.24" cy="182.00" r="1.5" fill="#454b63"/>
<circle cx="163.70" cy="184.00" r="1.5" fill="#454b63"/>
<circle cx="166.16" cy="186.00" r="1.5" fill="#454b63"/>
<circle cx="162.06" cy="188.50" r="1.5" fill="#454b63"/>
<rect x="171.80" y="173.30" width="8.20" height="27.20" fill="#b892c4" />
<line x1="175.90" y1="164.00" x2="175.90" y2="182.00" stroke="#6a2a70" stroke-width="0.8" />
<line x1="174.30" y1="164.00" x2="177.50" y2="164.00" stroke="#6a2a70" stroke-width="0.8" />
<line x1="174.30" y1="182.00" x2="177.50" y2="182.00" stroke="#6a2a70" stroke-width="0.8" />
<rect x="174.55" y="150.15" width="2.7" height="2.7" fill="#6a2a70"/>
<rect x="172.91" y="160.65" width="2.7" height="2.7" fill="#6a2a70"/>
<rect x="177.42" y="169.65" width="2.7" height="2.7" fill="#6a2a70"/>
<rect x="172.09" y="174.65" width="2.7" height="2.7" fill="#6a2a70"/>
<rect x="174.55" y="176.65" width="2.7" height="2.7" fill="#6a2a70"/>
<rect x="177.01" y="178.65" width="2.7" height="2.7" fill="#6a2a70"/>
<rect x="172.91" y="179.65" width="2.7" height="2.7" fill="#6a2a70"/>
<line x1="122.60" y1="137.50" x2="122.60" y2="201.12" stroke="#262626" stroke-width="1.25" />
<line x1="121.97" y1="200.50" x2="184.00" y2="200.50" stroke="#262626" stroke-width="1.25" />
<line x1="119.80" y1="200.50" x2="122.60" y2="200.50" stroke="#262626" stroke-width="0.9" />
<text x="117.60" y="202.84" font-size="6.5" text-anchor="end" fill="#2b2b2b" font-weight="normal" stroke="#2b2b2b" stroke-width="0.18" textLength="3.75" lengthAdjust="spacingAndGlyphs" >0</text>
<line x1="119.80" y1="188.40" x2="122.60" y2="188.40" stroke="#262626" stroke-width="0.9" />
<text x="117.60" y="190.74" font-size="6.5" text-anchor="end" fill="#2b2b2b" font-weight="normal" stroke="#2b2b2b" stroke-width="0.18" textLength="3.75" lengthAdjust="spacingAndGlyphs" >2</text>
<line x1="119.80" y1="176.30" x2="122.60" y2="176.30" stroke="#262626" stroke-width="0.9" />
<text x="117.60" y="178.64" font-size="6.5" text-anchor="end" fill="#2b2b2b" font-weight="normal" stroke="#2b2b2b" stroke-width="0.18" textLength="3.75" lengthAdjust="spacingAndGlyphs" >4</text>
<line x1="119.80" y1="164.20" x2="122.60" y2="164.20" stroke="#262626" stroke-width="0.9" />
<text x="117.60" y="166.54" font-size="6.5" text-anchor="end" fill="#2b2b2b" font-weight="normal" stroke="#2b2b2b" stroke-width="0.18" textLength="3.75" lengthAdjust="spacingAndGlyphs" >6</text>
<line x1="119.80" y1="152.10" x2="122.60" y2="152.10" stroke="#262626" stroke-width="0.9" />
<text x="117.60" y="154.44" font-size="6.5" text-anchor="end" fill="#2b2b2b" font-weight="normal" stroke="#2b2b2b" stroke-width="0.18" textLength="3.75" lengthAdjust="spacingAndGlyphs" >8</text>
<line x1="119.80" y1="140.00" x2="122.60" y2="140.00" stroke="#262626" stroke-width="0.9" />
<text x="117.60" y="142.34" font-size="6.5" text-anchor="end" fill="#2b2b2b" font-weight="normal" stroke="#2b2b2b" stroke-width="0.18" textLength="7.5" lengthAdjust="spacingAndGlyphs" >10</text>
<line x1="137.00" y1="200.50" x2="137.00" y2="202.90" stroke="#262626" stroke-width="0.9" />
<line x1="169.20" y1="200.50" x2="169.20" y2="202.90" stroke="#262626" stroke-width="0.9" />
<text x="127.20" y="145.20" font-size="6.6" text-anchor="start" fill="#2b2b2b" font-weight="normal" stroke="#2b2b2b" stroke-width="0.18" textLength="6.2" lengthAdjust="spacingAndGlyphs" >TF</text>
<text x="137.60" y="212.20" font-size="7.0" text-anchor="middle" fill="#2b2b2b" font-weight="normal" stroke="#2b2b2b" stroke-width="0.18" textLength="21.2" lengthAdjust="spacingAndGlyphs" >control</text>
<text x="168.80" y="212.20" font-size="7.0" text-anchor="middle" fill="#2b2b2b" font-weight="normal" stroke="#2b2b2b" stroke-width="0.18" textLength="24.0" lengthAdjust="spacingAndGlyphs" >Poly(I:C)</text>
<rect x="212.20" y="197.50" width="9.20" height="3.00" fill="#cdced6" />
<line x1="216.80" y1="193.50" x2="216.80" y2="199.50" stroke="#454b63" stroke-width="0.8" />
<line x1="215.20" y1="193.50" x2="218.40" y2="193.50" stroke="#454b63" stroke-width="0.8" />
<line x1="215.20" y1="199.50" x2="218.40" y2="199.50" stroke="#454b63" stroke-width="0.8" />
<circle cx="216.80" cy="188.50" r="1.5" fill="#454b63"/>
<circle cx="214.96" cy="195.50" r="1.5" fill="#454b63"/>
<circle cx="218.64" cy="197.00" r="1.5" fill="#454b63"/>
<circle cx="214.04" cy="198.50" r="1.5" fill="#454b63"/>
<circle cx="219.56" cy="199.00" r="1.5" fill="#454b63"/>
<rect x="224.00" y="198.70" width="9.20" height="1.80" fill="#b892c4" />
<rect x="225.41" y="196.15" width="2.7" height="2.7" fill="#6a2a70"/>
<rect x="229.09" y="196.65" width="2.7" height="2.7" fill="#6a2a70"/>
<rect x="227.25" y="197.65" width="2.7" height="2.7" fill="#6a2a70"/>
<rect x="245.00" y="172.20" width="8.20" height="28.30" fill="#cdced6" />
<line x1="249.10" y1="150.00" x2="249.10" y2="193.00" stroke="#454b63" stroke-width="0.8" />
<line x1="247.50" y1="150.00" x2="250.70" y2="150.00" stroke="#454b63" stroke-width="0.8" />
<line x1="247.50" y1="193.00" x2="250.70" y2="193.00" stroke="#454b63" stroke-width="0.8" />
<circle cx="249.10" cy="143.50" r="1.5" fill="#454b63"/>
<circle cx="249.10" cy="148.50" r="1.5" fill="#454b63"/>
<circle cx="249.10" cy="152.00" r="1.5" fill="#454b63"/>
<circle cx="249.92" cy="171.00" r="1.5" fill="#454b63"/>
<circle cx="246.64" cy="184.00" r="1.5" fill="#454b63"/>
<circle cx="249.10" cy="183.50" r="1.5" fill="#454b63"/>
<circle cx="251.97" cy="186.00" r="1.5" fill="#454b63"/>
<circle cx="248.28" cy="190.00" r="1.5" fill="#454b63"/>
<rect x="256.60" y="180.20" width="8.20" height="20.30" fill="#b892c4" />
<line x1="260.70" y1="171.00" x2="260.70" y2="190.50" stroke="#6a2a70" stroke-width="0.8" />
<line x1="259.10" y1="171.00" x2="262.30" y2="171.00" stroke="#6a2a70" stroke-width="0.8" />
<line x1="259.10" y1="190.50" x2="262.30" y2="190.50" stroke="#6a2a70" stroke-width="0.8" />
<rect x="256.89" y="170.65" width="2.7" height="2.7" fill="#6a2a70"/>
<rect x="261.81" y="171.65" width="2.7" height="2.7" fill="#6a2a70"/>
<rect x="259.35" y="173.15" width="2.7" height="2.7" fill="#6a2a70"/>
<rect x="256.89" y="178.65" width="2.7" height="2.7" fill="#6a2a70"/>
<rect x="262.22" y="179.15" width="2.7" height="2.7" fill="#6a2a70"/>
<rect x="259.35" y="184.65" width="2.7" height="2.7" fill="#6a2a70"/>
<rect x="257.71" y="187.65" width="2.7" height="2.7" fill="#6a2a70"/>
<line x1="207.60" y1="137.50" x2="207.60" y2="201.12" stroke="#262626" stroke-width="1.25" />
<line x1="206.97" y1="200.50" x2="269.00" y2="200.50" stroke="#262626" stroke-width="1.25" />
<line x1="204.80" y1="200.50" x2="207.60" y2="200.50" stroke="#262626" stroke-width="0.9" />
<text x="202.60" y="202.84" font-size="6.5" text-anchor="end" fill="#2b2b2b" font-weight="normal" stroke="#2b2b2b" stroke-width="0.18" textLength="3.75" lengthAdjust="spacingAndGlyphs" >0</text>
<line x1="204.80" y1="170.25" x2="207.60" y2="170.25" stroke="#262626" stroke-width="0.9" />
<text x="202.60" y="172.59" font-size="6.5" text-anchor="end" fill="#2b2b2b" font-weight="normal" stroke="#2b2b2b" stroke-width="0.18" textLength="7.5" lengthAdjust="spacingAndGlyphs" >50</text>
<line x1="204.80" y1="140.00" x2="207.60" y2="140.00" stroke="#262626" stroke-width="0.9" />
<text x="202.60" y="142.34" font-size="6.5" text-anchor="end" fill="#2b2b2b" font-weight="normal" stroke="#2b2b2b" stroke-width="0.18" textLength="11.25" lengthAdjust="spacingAndGlyphs" >100</text>
<line x1="204.80" y1="185.38" x2="207.60" y2="185.38" stroke="#262626" stroke-width="0.9" />
<line x1="204.80" y1="155.12" x2="207.60" y2="155.12" stroke="#262626" stroke-width="0.9" />
<line x1="222.30" y1="200.50" x2="222.30" y2="202.90" stroke="#262626" stroke-width="0.9" />
<line x1="254.60" y1="200.50" x2="254.60" y2="202.90" stroke="#262626" stroke-width="0.9" />
<text x="212.60" y="145.20" font-size="6.6" text-anchor="start" fill="#2b2b2b" font-weight="normal" stroke="#2b2b2b" stroke-width="0.18" textLength="12.5" lengthAdjust="spacingAndGlyphs" >IFN&#945;</text>
<text x="222.00" y="212.20" font-size="7.0" text-anchor="middle" fill="#2b2b2b" font-weight="normal" stroke="#2b2b2b" stroke-width="0.18" textLength="21.2" lengthAdjust="spacingAndGlyphs" >control</text>
<text x="254.50" y="212.20" font-size="7.0" text-anchor="middle" fill="#2b2b2b" font-weight="normal" stroke="#2b2b2b" stroke-width="0.18" textLength="24.0" lengthAdjust="spacingAndGlyphs" >Poly(I:C)</text>
<rect x="296.40" y="199.60" width="9.20" height="0.90" fill="#cdced6" />
<circle cx="299.16" cy="199.50" r="1.5" fill="#454b63"/>
<circle cx="302.84" cy="199.50" r="1.5" fill="#454b63"/>
<rect x="307.60" y="199.60" width="9.20" height="0.90" fill="#b892c4" />
<rect x="309.01" y="198.45" width="2.7" height="2.7" fill="#6a2a70"/>
<rect x="312.69" y="198.45" width="2.7" height="2.7" fill="#6a2a70"/>
<rect x="329.40" y="172.20" width="8.40" height="28.30" fill="#cdced6" />
<line x1="333.60" y1="162.40" x2="333.60" y2="184.00" stroke="#454b63" stroke-width="0.8" />
<line x1="332.00" y1="162.40" x2="335.20" y2="162.40" stroke="#454b63" stroke-width="0.8" />
<line x1="332.00" y1="184.00" x2="335.20" y2="184.00" stroke="#454b63" stroke-width="0.8" />
<circle cx="330.40" cy="157.60" r="1.5" fill="#454b63"/>
<circle cx="333.20" cy="157.60" r="1.5" fill="#454b63"/>
<circle cx="333.60" cy="168.50" r="1.5" fill="#454b63"/>
<circle cx="330.80" cy="173.20" r="1.5" fill="#454b63"/>
<circle cx="336.40" cy="173.20" r="1.5" fill="#454b63"/>
<circle cx="333.60" cy="177.30" r="1.5" fill="#454b63"/>
<circle cx="333.60" cy="181.70" r="1.5" fill="#454b63"/>
<circle cx="333.60" cy="186.00" r="1.5" fill="#454b63"/>
<rect x="341.30" y="181.40" width="8.40" height="19.10" fill="#b892c4" />
<line x1="345.50" y1="171.50" x2="345.50" y2="191.00" stroke="#6a2a70" stroke-width="0.8" />
<line x1="343.90" y1="171.50" x2="347.10" y2="171.50" stroke="#6a2a70" stroke-width="0.8" />
<line x1="343.90" y1="191.00" x2="347.10" y2="191.00" stroke="#6a2a70" stroke-width="0.8" />
<rect x="344.05" y="162.85" width="2.7" height="2.7" fill="#6a2a70"/>
<rect x="344.05" y="174.45" width="2.7" height="2.7" fill="#6a2a70"/>
<rect x="341.25" y="178.85" width="2.7" height="2.7" fill="#6a2a70"/>
<rect x="347.05" y="180.05" width="2.7" height="2.7" fill="#6a2a70"/>
<rect x="344.05" y="187.65" width="2.7" height="2.7" fill="#6a2a70"/>
<rect x="342.85" y="194.95" width="2.7" height="2.7" fill="#6a2a70"/>
<line x1="293.00" y1="137.50" x2="293.00" y2="201.12" stroke="#262626" stroke-width="1.25" />
<line x1="292.38" y1="200.50" x2="354.00" y2="200.50" stroke="#262626" stroke-width="1.25" />
<line x1="290.20" y1="200.50" x2="293.00" y2="200.50" stroke="#262626" stroke-width="0.9" />
<text x="288.00" y="202.84" font-size="6.5" text-anchor="end" fill="#2b2b2b" font-weight="normal" stroke="#2b2b2b" stroke-width="0.18" textLength="3.75" lengthAdjust="spacingAndGlyphs" >0</text>
<line x1="290.20" y1="185.38" x2="293.00" y2="185.38" stroke="#262626" stroke-width="0.9" />
<text x="288.00" y="187.72" font-size="6.5" text-anchor="end" fill="#2b2b2b" font-weight="normal" stroke="#2b2b2b" stroke-width="0.18" textLength="11.25" lengthAdjust="spacingAndGlyphs" >100</text>
<line x1="290.20" y1="170.25" x2="293.00" y2="170.25" stroke="#262626" stroke-width="0.9" />
<text x="288.00" y="172.59" font-size="6.5" text-anchor="end" fill="#2b2b2b" font-weight="normal" stroke="#2b2b2b" stroke-width="0.18" textLength="11.25" lengthAdjust="spacingAndGlyphs" >200</text>
<line x1="290.20" y1="155.12" x2="293.00" y2="155.12" stroke="#262626" stroke-width="0.9" />
<text x="288.00" y="157.47" font-size="6.5" text-anchor="end" fill="#2b2b2b" font-weight="normal" stroke="#2b2b2b" stroke-width="0.18" textLength="11.25" lengthAdjust="spacingAndGlyphs" >300</text>
<line x1="290.20" y1="140.00" x2="293.00" y2="140.00" stroke="#262626" stroke-width="0.9" />
<text x="288.00" y="142.34" font-size="6.5" text-anchor="end" fill="#2b2b2b" font-weight="normal" stroke="#2b2b2b" stroke-width="0.18" textLength="11.25" lengthAdjust="spacingAndGlyphs" >400</text>
<line x1="307.60" y1="200.50" x2="307.60" y2="202.90" stroke="#262626" stroke-width="0.9" />
<line x1="339.60" y1="200.50" x2="339.60" y2="202.90" stroke="#262626" stroke-width="0.9" />
<polyline points="333.50,153.20 333.50,149.60 345.90,149.60 345.90,153.20" fill="none" stroke="#262626" stroke-width="0.95"/>
<text x="339.70" y="149.80" font-size="7" text-anchor="middle" fill="#2b2b2b" font-weight="normal" stroke="#2b2b2b" stroke-width="0.18" >*</text>
<text x="298.00" y="145.20" font-size="6.6" text-anchor="start" fill="#2b2b2b" font-weight="normal" stroke="#2b2b2b" stroke-width="0.18" textLength="12.0" lengthAdjust="spacingAndGlyphs" >IFN&#946;</text>
<text x="307.60" y="212.20" font-size="7.0" text-anchor="middle" fill="#2b2b2b" font-weight="normal" stroke="#2b2b2b" stroke-width="0.18" textLength="21.2" lengthAdjust="spacingAndGlyphs" >control</text>
<text x="339.50" y="212.20" font-size="7.0" text-anchor="middle" fill="#2b2b2b" font-weight="normal" stroke="#2b2b2b" stroke-width="0.18" textLength="24.0" lengthAdjust="spacingAndGlyphs" >Poly(I:C)</text>
<circle cx="166.40" cy="226.80" r="1.6" fill="#454b63"/>
<text x="170.80" y="229.00" font-size="6.8" text-anchor="start" fill="#2b2b2b" font-weight="normal" stroke="#2b2b2b" stroke-width="0.18" textLength="8.6" lengthAdjust="spacingAndGlyphs" >F7</text>
<text x="179.80" y="225.20" font-size="3.8" text-anchor="start" fill="#2b2b2b" font-weight="normal" stroke="#2b2b2b" stroke-width="0.18" textLength="5.4" lengthAdjust="spacingAndGlyphs" >fl/fl</text>
<rect x="187.50" y="225.30" width="3.0" height="3.0" fill="#6a2a70"/>
<text x="192.40" y="229.00" font-size="6.8" text-anchor="start" fill="#2b2b2b" font-weight="normal" stroke="#2b2b2b" stroke-width="0.18" textLength="8.0" lengthAdjust="spacingAndGlyphs" >F7</text>
<text x="200.80" y="225.20" font-size="3.8" text-anchor="start" fill="#2b2b2b" font-weight="normal" stroke="#2b2b2b" stroke-width="0.18" textLength="5.0" lengthAdjust="spacingAndGlyphs" >fl/fl</text>
<text x="206.20" y="229.00" font-size="6.8" text-anchor="start" fill="#2b2b2b" font-weight="normal" stroke="#2b2b2b" stroke-width="0.18" textLength="17.4" lengthAdjust="spacingAndGlyphs" >LysM</text>
<text x="223.80" y="225.20" font-size="3.8" text-anchor="start" fill="#2b2b2b" font-weight="normal" stroke="#2b2b2b" stroke-width="0.18" textLength="5.6" lengthAdjust="spacingAndGlyphs" >cre</text>
<text x="0" y="0" font-size="12.0" font-weight="bold" fill="#111" stroke="#111" stroke-width="0.25" transform="translate(364.21,132.70) scale(0.862,1)">E</text>
<text x="0" y="0" font-size="9.2" text-anchor="middle" fill="#2b2b2b" stroke="#2b2b2b" stroke-width="0.25" transform="translate(383.20,169.10) rotate(-90)" textLength="29.6" lengthAdjust="spacingAndGlyphs">Migration</text>
<text x="0" y="0" font-size="9.2" text-anchor="middle" fill="#2b2b2b" stroke="#2b2b2b" stroke-width="0.25" transform="translate(393.20,169.10) rotate(-90)" textLength="36.0" lengthAdjust="spacingAndGlyphs">% of control</text>
<rect x="421.20" y="194.00" width="9.00" height="6.50" fill="#cdced6" />
<circle cx="423.00" cy="188.50" r="1.5" fill="#454b63"/>
<circle cx="426.60" cy="190.00" r="1.5" fill="#454b63"/>
<circle cx="423.00" cy="193.50" r="1.5" fill="#454b63"/>
<circle cx="425.70" cy="194.50" r="1.5" fill="#454b63"/>
<circle cx="428.40" cy="194.00" r="1.5" fill="#454b63"/>
<circle cx="423.90" cy="197.50" r="1.5" fill="#454b63"/>
<circle cx="427.50" cy="198.00" r="1.5" fill="#454b63"/>
<circle cx="429.30" cy="196.00" r="1.5" fill="#454b63"/>
<rect x="434.60" y="195.00" width="9.00" height="5.50" fill="#b892c4" />
<rect x="440.45" y="190.65" width="2.7" height="2.7" fill="#6a2a70"/>
<rect x="437.75" y="192.65" width="2.7" height="2.7" fill="#6a2a70"/>
<rect x="435.05" y="194.15" width="2.7" height="2.7" fill="#6a2a70"/>
<rect x="440.45" y="194.65" width="2.7" height="2.7" fill="#6a2a70"/>
<rect x="437.75" y="196.15" width="2.7" height="2.7" fill="#6a2a70"/>
<rect x="448.00" y="195.00" width="9.00" height="5.50" fill="#b892c4" />
<polygon points="450.85,187.49 454.15,187.49 452.50,184.51" fill="#6a2a70"/>
<polygon points="448.15,191.99 451.45,191.99 449.80,189.01" fill="#6a2a70"/>
<polygon points="453.55,191.99 456.85,191.99 455.20,189.01" fill="#6a2a70"/>
<polygon points="448.15,196.99 451.45,196.99 449.80,194.01" fill="#6a2a70"/>
<polygon points="450.85,196.99 454.15,196.99 452.50,194.01" fill="#6a2a70"/>
<polygon points="453.55,197.99 456.85,197.99 455.20,195.01" fill="#6a2a70"/>
<polygon points="449.05,199.49 452.35,199.49 450.70,196.51" fill="#6a2a70"/>
<rect x="469.50" y="180.50" width="9.00" height="20.00" fill="#cdced6" />
<line x1="474.00" y1="174.00" x2="474.00" y2="190.00" stroke="#454b63" stroke-width="0.8" />
<line x1="472.40" y1="174.00" x2="475.60" y2="174.00" stroke="#454b63" stroke-width="0.8" />
<line x1="472.40" y1="190.00" x2="475.60" y2="190.00" stroke="#454b63" stroke-width="0.8" />
<circle cx="474.00" cy="164.50" r="1.5" fill="#454b63"/>
<circle cx="471.30" cy="169.00" r="1.5" fill="#454b63"/>
<circle cx="476.70" cy="170.50" r="1.5" fill="#454b63"/>
<circle cx="474.00" cy="177.00" r="1.5" fill="#454b63"/>
<circle cx="471.30" cy="181.00" r="1.5" fill="#454b63"/>
<circle cx="476.70" cy="182.50" r="1.5" fill="#454b63"/>
<circle cx="474.00" cy="187.00" r="1.5" fill="#454b63"/>
<circle cx="471.30" cy="190.00" r="1.5" fill="#454b63"/>
<circle cx="476.70" cy="192.00" r="1.5" fill="#454b63"/>
<rect x="481.90" y="187.50" width="9.00" height="13.00" fill="#b892c4" />
<rect x="482.35" y="186.15" width="2.7" height="2.7" fill="#6a2a70"/>
<rect x="485.05" y="186.65" width="2.7" height="2.7" fill="#6a2a70"/>
<rect x="487.75" y="187.15" width="2.7" height="2.7" fill="#6a2a70"/>
<rect x="485.05" y="188.65" width="2.7" height="2.7" fill="#6a2a70"/>
<rect x="495.00" y="194.50" width="9.00" height="6.00" fill="#b892c4" />
<polygon points="497.85,187.99 501.15,187.99 499.50,185.01" fill="#6a2a70"/>
<polygon points="495.15,193.99 498.45,193.99 496.80,191.01" fill="#6a2a70"/>
<polygon points="500.55,193.99 503.85,193.99 502.20,191.01" fill="#6a2a70"/>
<polygon points="496.05,196.99 499.35,196.99 497.70,194.01" fill="#6a2a70"/>
<polygon points="499.65,196.49 502.95,196.49 501.30,193.51" fill="#6a2a70"/>
<polygon points="497.85,198.49 501.15,198.49 499.50,195.51" fill="#6a2a70"/>
<line x1="416.30" y1="137.50" x2="416.30" y2="201.12" stroke="#262626" stroke-width="1.25" />
<line x1="415.68" y1="200.50" x2="508.00" y2="200.50" stroke="#262626" stroke-width="1.25" />
<line x1="413.50" y1="200.50" x2="416.30" y2="200.50" stroke="#262626" stroke-width="0.9" />
<text x="411.30" y="202.84" font-size="6.5" text-anchor="end" fill="#2b2b2b" font-weight="normal" stroke="#2b2b2b" stroke-width="0.18" textLength="3.75" lengthAdjust="spacingAndGlyphs" >0</text>
<line x1="413.50" y1="188.40" x2="416.30" y2="188.40" stroke="#262626" stroke-width="0.9" />
<text x="411.30" y="190.74" font-size="6.5" text-anchor="end" fill="#2b2b2b" font-weight="normal" stroke="#2b2b2b" stroke-width="0.18" textLength="11.25" lengthAdjust="spacingAndGlyphs" >200</text>
<line x1="413.50" y1="176.30" x2="416.30" y2="176.30" stroke="#262626" stroke-width="0.9" />
<text x="411.30" y="178.64" font-size="6.5" text-anchor="end" fill="#2b2b2b" font-weight="normal" stroke="#2b2b2b" stroke-width="0.18" textLength="11.25" lengthAdjust="spacingAndGlyphs" >400</text>
<line x1="413.50" y1="164.20" x2="416.30" y2="164.20" stroke="#262626" stroke-width="0.9" />
<text x="411.30" y="166.54" font-size="6.5" text-anchor="end" fill="#2b2b2b" font-weight="normal" stroke="#2b2b2b" stroke-width="0.18" textLength="11.25" lengthAdjust="spacingAndGlyphs" >600</text>
<line x1="413.50" y1="152.10" x2="416.30" y2="152.10" stroke="#262626" stroke-width="0.9" />
<text x="411.30" y="154.44" font-size="6.5" text-anchor="end" fill="#2b2b2b" font-weight="normal" stroke="#2b2b2b" stroke-width="0.18" textLength="11.25" lengthAdjust="spacingAndGlyphs" >800</text>
<line x1="413.50" y1="140.00" x2="416.30" y2="140.00" stroke="#262626" stroke-width="0.9" />
<text x="411.30" y="142.34" font-size="6.5" text-anchor="end" fill="#2b2b2b" font-weight="normal" stroke="#2b2b2b" stroke-width="0.18" textLength="15.0" lengthAdjust="spacingAndGlyphs" >1000</text>
<polyline points="472.70,161.10 472.70,157.40 486.00,157.40 486.00,161.10" fill="none" stroke="#262626" stroke-width="0.95"/>
<text x="479.35" y="157.60" font-size="7" text-anchor="middle" fill="#2b2b2b" font-weight="normal" stroke="#2b2b2b" stroke-width="0.18" >*</text>
<polyline points="472.70,149.40 472.70,145.80 498.90,145.80 498.90,149.40" fill="none" stroke="#262626" stroke-width="0.95"/>
<text x="485.80" y="146.00" font-size="7" text-anchor="middle" fill="#2b2b2b" font-weight="normal" stroke="#2b2b2b" stroke-width="0.18" >***</text>
<text x="438.80" y="210.50" font-size="7.0" text-anchor="middle" fill="#2b2b2b" font-weight="normal" stroke="#2b2b2b" stroke-width="0.18" textLength="21.2" lengthAdjust="spacingAndGlyphs" >control</text>
<text x="486.00" y="210.50" font-size="7.0" text-anchor="middle" fill="#2b2b2b" font-weight="normal" stroke="#2b2b2b" stroke-width="0.18" textLength="18.0" lengthAdjust="spacingAndGlyphs" >CpG B</text>
<circle cx="427.90" cy="226.40" r="1.6" fill="#454b63"/>
<text x="432.80" y="228.60" font-size="6.8" text-anchor="start" fill="#2b2b2b" font-weight="normal" stroke="#2b2b2b" stroke-width="0.18" textLength="8.0" lengthAdjust="spacingAndGlyphs" >F7</text>
<text x="441.00" y="224.80" font-size="3.8" text-anchor="start" fill="#2b2b2b" font-weight="normal" stroke="#2b2b2b" stroke-width="0.18" textLength="5.2" lengthAdjust="spacingAndGlyphs" >fl/fl</text>
<rect x="450.00" y="218.00" width="3.0" height="3.0" fill="#6a2a70"/>
<text x="455.40" y="221.60" font-size="6.8" text-anchor="start" fill="#2b2b2b" font-weight="normal" stroke="#2b2b2b" stroke-width="0.18" textLength="8.0" lengthAdjust="spacingAndGlyphs" >F7</text>
<text x="463.40" y="217.80" font-size="3.8" text-anchor="start" fill="#2b2b2b" font-weight="normal" stroke="#2b2b2b" stroke-width="0.18" textLength="5.6" lengthAdjust="spacingAndGlyphs" >fl/fl</text>
<text x="470.20" y="221.60" font-size="6.8" text-anchor="start" fill="#2b2b2b" font-weight="normal" stroke="#2b2b2b" stroke-width="0.18" textLength="14.8" lengthAdjust="spacingAndGlyphs" >LysM</text>
<text x="485.00" y="217.80" font-size="3.8" text-anchor="start" fill="#2b2b2b" font-weight="normal" stroke="#2b2b2b" stroke-width="0.18" textLength="5.8" lengthAdjust="spacingAndGlyphs" >cre</text>
<polygon points="449.65,231.66 453.35,231.66 451.50,228.34" fill="#6a2a70"/>
<text x="455.40" y="232.20" font-size="6.8" text-anchor="start" fill="#2b2b2b" font-weight="normal" stroke="#2b2b2b" stroke-width="0.18" textLength="8.0" lengthAdjust="spacingAndGlyphs" >F7</text>
<text x="463.40" y="228.40" font-size="3.8" text-anchor="start" fill="#2b2b2b" font-weight="normal" stroke="#2b2b2b" stroke-width="0.18" textLength="5.6" lengthAdjust="spacingAndGlyphs" >fl/fl</text>
<text x="470.20" y="232.20" font-size="6.8" text-anchor="start" fill="#2b2b2b" font-weight="normal" stroke="#2b2b2b" stroke-width="0.18" textLength="20.6" lengthAdjust="spacingAndGlyphs" >Cx3cr1</text>
<text x="491.20" y="228.40" font-size="3.8" text-anchor="start" fill="#2b2b2b" font-weight="normal" stroke="#2b2b2b" stroke-width="0.18" textLength="5.8" lengthAdjust="spacingAndGlyphs" >cre</text>
<text x="0" y="0" font-size="12.0" font-weight="bold" fill="#111" stroke="#111" stroke-width="0.25" transform="translate(7.46,250.60) scale(0.920,1)">F</text>
<text x="0" y="0" font-size="9.2" text-anchor="middle" fill="#2b2b2b" stroke="#2b2b2b" stroke-width="0.25" transform="translate(24.80,287.80) rotate(-90)" textLength="47.2" lengthAdjust="spacingAndGlyphs">FXa generation</text>
<text x="0" y="0" font-size="9.2" text-anchor="middle" fill="#2b2b2b" stroke="#2b2b2b" stroke-width="0.25" transform="translate(34.80,287.90) rotate(-90)" textLength="42.7" lengthAdjust="spacingAndGlyphs">(mUnits/min)</text>
<line x1="59.60" y1="288.00" x2="70.80" y2="288.00" stroke="#d08a3c" stroke-width="0.9" />
<polygon points="59.10,289.53 62.50,289.53 60.80,286.47" fill="#d08a3c"/>
<polygon points="67.80,289.53 71.20,289.53 69.50,286.47" fill="#d08a3c"/>
<polygon points="63.40,292.53 66.80,292.53 65.10,289.47" fill="#d08a3c"/>
<line x1="59.60" y1="281.30" x2="70.80" y2="281.30" stroke="#f2c044" stroke-width="0.9" />
<rect x="59.25" y="279.85" width="2.9" height="2.9" fill="#f2c044"/>
<rect x="63.65" y="279.85" width="2.9" height="2.9" fill="#f2c044"/>
<rect x="63.65" y="276.15" width="2.9" height="2.9" fill="#f2c044"/>
<line x1="59.60" y1="276.20" x2="70.80" y2="276.20" stroke="#454b63" stroke-width="0.9" />
<circle cx="60.70" cy="276.10" r="1.55" fill="#454b63"/>
<circle cx="69.90" cy="275.00" r="1.55" fill="#454b63"/>
<circle cx="69.90" cy="281.30" r="1.55" fill="#454b63"/>
<line x1="76.70" y1="301.00" x2="87.90" y2="301.00" stroke="#d08a3c" stroke-width="0.9" />
<polygon points="76.00,302.73 79.40,302.73 77.70,299.67" fill="#d08a3c"/>
<polygon points="80.60,302.43 84.00,302.43 82.30,299.37" fill="#d08a3c"/>
<polygon points="85.10,302.53 88.50,302.53 86.80,299.47" fill="#d08a3c"/>
<line x1="76.70" y1="283.30" x2="87.90" y2="283.30" stroke="#f2c044" stroke-width="0.9" />
<rect x="80.85" y="279.85" width="2.9" height="2.9" fill="#f2c044"/>
<rect x="80.85" y="284.55" width="2.9" height="2.9" fill="#f2c044"/>
<rect x="85.35" y="282.15" width="2.9" height="2.9" fill="#f2c044"/>
<line x1="76.70" y1="281.60" x2="87.90" y2="281.60" stroke="#454b63" stroke-width="0.9" />
<circle cx="82.30" cy="268.80" r="1.55" fill="#454b63"/>
<circle cx="77.70" cy="282.30" r="1.55" fill="#454b63"/>
<circle cx="86.80" cy="280.80" r="1.55" fill="#454b63"/>
<line x1="94.10" y1="303.10" x2="105.30" y2="303.10" stroke="#d08a3c" stroke-width="0.9" />
<polygon points="93.40,305.53 96.80,305.53 95.10,302.47" fill="#d08a3c"/>
<polygon points="97.80,303.13 101.20,303.13 99.50,300.07" fill="#d08a3c"/>
<polygon points="102.60,304.63 106.00,304.63 104.30,301.57" fill="#d08a3c"/>
<line x1="94.10" y1="283.40" x2="105.30" y2="283.40" stroke="#f2c044" stroke-width="0.9" />
<rect x="93.65" y="279.85" width="2.9" height="2.9" fill="#f2c044"/>
<rect x="93.65" y="283.25" width="2.9" height="2.9" fill="#f2c044"/>
<rect x="98.05" y="281.95" width="2.9" height="2.9" fill="#f2c044"/>
<line x1="94.10" y1="282.80" x2="105.30" y2="282.80" stroke="#454b63" stroke-width="0.9" />
<circle cx="99.50" cy="274.30" r="1.55" fill="#454b63"/>
<circle cx="104.30" cy="282.30" r="1.55" fill="#454b63"/>
<circle cx="104.30" cy="284.90" r="1.55" fill="#454b63"/>
<line x1="110.90" y1="308.90" x2="122.10" y2="308.90" stroke="#d08a3c" stroke-width="0.9" />
<polygon points="111.90,310.73 115.30,310.73 113.60,307.67" fill="#d08a3c"/>
<polygon points="114.80,307.93 118.20,307.93 116.50,304.87" fill="#d08a3c"/>
<polygon points="117.70,310.43 121.10,310.43 119.40,307.37" fill="#d08a3c"/>
<line x1="110.90" y1="283.90" x2="122.10" y2="283.90" stroke="#f2c044" stroke-width="0.9" />
<rect x="115.05" y="276.15" width="2.9" height="2.9" fill="#f2c044"/>
<rect x="110.35" y="282.45" width="2.9" height="2.9" fill="#f2c044"/>
<rect x="115.05" y="285.35" width="2.9" height="2.9" fill="#f2c044"/>
<line x1="110.90" y1="283.70" x2="122.10" y2="283.70" stroke="#454b63" stroke-width="0.9" />
<circle cx="116.50" cy="271.60" r="1.55" fill="#454b63"/>
<circle cx="116.50" cy="283.70" r="1.55" fill="#454b63"/>
<circle cx="121.20" cy="285.40" r="1.55" fill="#454b63"/>
<line x1="128.10" y1="309.40" x2="139.30" y2="309.40" stroke="#d08a3c" stroke-width="0.9" />
<polygon points="129.40,309.33 132.80,309.33 131.10,306.27" fill="#d08a3c"/>
<polygon points="129.40,311.43 132.80,311.43 131.10,308.37" fill="#d08a3c"/>
<polygon points="134.10,310.93 137.50,310.93 135.80,307.87" fill="#d08a3c"/>
<line x1="128.10" y1="283.90" x2="139.30" y2="283.90" stroke="#f2c044" stroke-width="0.9" />
<rect x="129.65" y="275.65" width="2.9" height="2.9" fill="#f2c044"/>
<rect x="129.65" y="282.45" width="2.9" height="2.9" fill="#f2c044"/>
<rect x="134.85" y="282.45" width="2.9" height="2.9" fill="#f2c044"/>
<line x1="128.10" y1="280.50" x2="139.30" y2="280.50" stroke="#454b63" stroke-width="0.9" />
<circle cx="136.30" cy="277.10" r="1.55" fill="#454b63"/>
<circle cx="133.70" cy="280.50" r="1.55" fill="#454b63"/>
<circle cx="133.70" cy="288.60" r="1.55" fill="#454b63"/>
<line x1="53.30" y1="256.50" x2="53.30" y2="320.12" stroke="#262626" stroke-width="1.25" />
<line x1="52.67" y1="319.50" x2="145.50" y2="319.50" stroke="#262626" stroke-width="1.25" />
<line x1="50.50" y1="319.50" x2="53.30" y2="319.50" stroke="#262626" stroke-width="0.9" />
<text x="48.30" y="321.84" font-size="6.5" text-anchor="end" fill="#2b2b2b" font-weight="normal" stroke="#2b2b2b" stroke-width="0.18" textLength="3.75" lengthAdjust="spacingAndGlyphs" >0</text>
<line x1="50.50" y1="307.38" x2="53.30" y2="307.38" stroke="#262626" stroke-width="0.9" />
<text x="48.30" y="309.72" font-size="6.5" text-anchor="end" fill="#2b2b2b" font-weight="normal" stroke="#2b2b2b" stroke-width="0.18" textLength="3.75" lengthAdjust="spacingAndGlyphs" >2</text>
<line x1="50.50" y1="295.26" x2="53.30" y2="295.26" stroke="#262626" stroke-width="0.9" />
<text x="48.30" y="297.60" font-size="6.5" text-anchor="end" fill="#2b2b2b" font-weight="normal" stroke="#2b2b2b" stroke-width="0.18" textLength="3.75" lengthAdjust="spacingAndGlyphs" >4</text>
<line x1="50.50" y1="283.14" x2="53.30" y2="283.14" stroke="#262626" stroke-width="0.9" />
<text x="48.30" y="285.48" font-size="6.5" text-anchor="end" fill="#2b2b2b" font-weight="normal" stroke="#2b2b2b" stroke-width="0.18" textLength="3.75" lengthAdjust="spacingAndGlyphs" >6</text>
<line x1="50.50" y1="271.02" x2="53.30" y2="271.02" stroke="#262626" stroke-width="0.9" />
<text x="48.30" y="273.36" font-size="6.5" text-anchor="end" fill="#2b2b2b" font-weight="normal" stroke="#2b2b2b" stroke-width="0.18" textLength="3.75" lengthAdjust="spacingAndGlyphs" >8</text>
<line x1="50.50" y1="258.90" x2="53.30" y2="258.90" stroke="#262626" stroke-width="0.9" />
<text x="48.30" y="261.24" font-size="6.5" text-anchor="end" fill="#2b2b2b" font-weight="normal" stroke="#2b2b2b" stroke-width="0.18" textLength="7.5" lengthAdjust="spacingAndGlyphs" >10</text>
<line x1="65.00" y1="319.50" x2="65.00" y2="321.90" stroke="#262626" stroke-width="0.9" />
<line x1="82.00" y1="319.50" x2="82.00" y2="321.90" stroke="#262626" stroke-width="0.9" />
<line x1="99.20" y1="319.50" x2="99.20" y2="321.90" stroke="#262626" stroke-width="0.9" />
<line x1="116.20" y1="319.50" x2="116.20" y2="321.90" stroke="#262626" stroke-width="0.9" />
<line x1="133.40" y1="319.50" x2="133.40" y2="321.90" stroke="#262626" stroke-width="0.9" />
<text x="65.20" y="331.30" font-size="7.0" text-anchor="middle" fill="#2b2b2b" font-weight="normal" stroke="#2b2b2b" stroke-width="0.18" >3.1</text>
<text x="82.40" y="331.30" font-size="7.0" text-anchor="middle" fill="#2b2b2b" font-weight="normal" stroke="#2b2b2b" stroke-width="0.18" >6.3</text>
<text x="99.00" y="331.30" font-size="7.0" text-anchor="middle" fill="#2b2b2b" font-weight="normal" stroke="#2b2b2b" stroke-width="0.18" >12.5</text>
<text x="115.60" y="331.30" font-size="7.0" text-anchor="middle" fill="#2b2b2b" font-weight="normal" stroke="#2b2b2b" stroke-width="0.18" >25</text>
<text x="132.60" y="331.30" font-size="7.0" text-anchor="middle" fill="#2b2b2b" font-weight="normal" stroke="#2b2b2b" stroke-width="0.18" >50</text>
<text x="138.60" y="331.30" font-size="7.0" text-anchor="start" fill="#2b2b2b" font-weight="normal" stroke="#2b2b2b" stroke-width="0.18" textLength="19.8" lengthAdjust="spacingAndGlyphs" >&#181;g/mL</text>
<circle cx="64.00" cy="345.40" r="1.6" fill="#454b63"/>
<text x="68.60" y="347.40" font-size="7.0" text-anchor="start" fill="#2b2b2b" font-weight="normal" stroke="#2b2b2b" stroke-width="0.18" textLength="18.2" lengthAdjust="spacingAndGlyphs" >IgG2a</text>
<rect x="89.50" y="337.40" width="3.0" height="3.0" fill="#f2c044"/>
<text x="95.40" y="340.90" font-size="7.0" text-anchor="start" fill="#2b2b2b" font-weight="normal" stroke="#2b2b2b" stroke-width="0.18" textLength="37.2" lengthAdjust="spacingAndGlyphs" >anti-TF43D8</text>
<polygon points="89.15,350.87 92.85,350.87 91.00,347.53" fill="#d08a3c"/>
<text x="95.40" y="351.20" font-size="7.0" text-anchor="start" fill="#2b2b2b" font-weight="normal" stroke="#2b2b2b" stroke-width="0.18" textLength="40.2" lengthAdjust="spacingAndGlyphs" >anti-TF21E10</text>
<text x="0" y="0" font-size="12.0" font-weight="bold" fill="#111" stroke="#111" stroke-width="0.25" transform="translate(161.53,250.60) scale(0.963,1)">G</text>
<text x="0" y="0" font-size="9.2" text-anchor="middle" fill="#2b2b2b" stroke="#2b2b2b" stroke-width="0.25" transform="translate(178.40,289.40) rotate(-90)" textLength="42.7" lengthAdjust="spacingAndGlyphs">Secreted IFN&#945;</text>
<text x="0" y="0" font-size="9.2" text-anchor="middle" fill="#2b2b2b" stroke="#2b2b2b" stroke-width="0.25" transform="translate(187.90,289.70) rotate(-90)" textLength="36.2" lengthAdjust="spacingAndGlyphs">% of control</text>
<rect x="214.00" y="321.00" width="8.80" height="0.80" fill="#cdced6" />
<circle cx="214.88" cy="321.00" r="1.5" fill="#454b63"/>
<circle cx="216.64" cy="320.60" r="1.5" fill="#454b63"/>
<circle cx="218.40" cy="321.00" r="1.5" fill="#454b63"/>
<circle cx="220.16" cy="320.60" r="1.5" fill="#454b63"/>
<circle cx="221.92" cy="321.00" r="1.5" fill="#454b63"/>
<rect x="226.00" y="321.00" width="8.80" height="0.80" fill="#fde3a2" />
<rect x="225.09" y="319.65" width="2.7" height="2.7" fill="#f2c044"/>
<rect x="226.85" y="319.05" width="2.7" height="2.7" fill="#f2c044"/>
<rect x="228.61" y="319.65" width="2.7" height="2.7" fill="#f2c044"/>
<rect x="230.37" y="319.05" width="2.7" height="2.7" fill="#f2c044"/>
<rect x="232.13" y="319.65" width="2.7" height="2.7" fill="#f2c044"/>
<rect x="233.45" y="319.45" width="2.7" height="2.7" fill="#f2c044"/>
<rect x="246.30" y="306.00" width="8.80" height="15.80" fill="#cdced6" />
<line x1="250.70" y1="301.00" x2="250.70" y2="311.00" stroke="#454b63" stroke-width="0.8" />
<line x1="249.10" y1="301.00" x2="252.30" y2="301.00" stroke="#454b63" stroke-width="0.8" />
<line x1="249.10" y1="311.00" x2="252.30" y2="311.00" stroke="#454b63" stroke-width="0.8" />
<circle cx="247.62" cy="301.50" r="1.5" fill="#454b63"/>
<circle cx="250.70" cy="302.00" r="1.5" fill="#454b63"/>
<circle cx="253.78" cy="301.50" r="1.5" fill="#454b63"/>
<circle cx="250.70" cy="305.00" r="1.5" fill="#454b63"/>
<circle cx="248.06" cy="309.00" r="1.5" fill="#454b63"/>
<circle cx="253.34" cy="308.50" r="1.5" fill="#454b63"/>
<rect x="258.20" y="298.00" width="8.80" height="23.80" fill="#fde3a2" />
<line x1="262.60" y1="287.50" x2="262.60" y2="308.50" stroke="#f2c044" stroke-width="0.8" />
<line x1="261.00" y1="287.50" x2="264.20" y2="287.50" stroke="#f2c044" stroke-width="0.8" />
<line x1="261.00" y1="308.50" x2="264.20" y2="308.50" stroke="#f2c044" stroke-width="0.8" />
<rect x="261.25" y="273.65" width="2.7" height="2.7" fill="#f2c044"/>
<rect x="261.25" y="284.15" width="2.7" height="2.7" fill="#f2c044"/>
<rect x="258.61" y="289.65" width="2.7" height="2.7" fill="#f2c044"/>
<rect x="263.89" y="294.65" width="2.7" height="2.7" fill="#f2c044"/>
<rect x="258.61" y="298.65" width="2.7" height="2.7" fill="#f2c044"/>
<rect x="263.89" y="300.65" width="2.7" height="2.7" fill="#f2c044"/>
<rect x="261.25" y="304.65" width="2.7" height="2.7" fill="#f2c044"/>
<line x1="210.00" y1="258.00" x2="210.00" y2="322.43" stroke="#262626" stroke-width="1.25" />
<line x1="209.38" y1="321.80" x2="272.60" y2="321.80" stroke="#262626" stroke-width="1.25" />
<line x1="207.20" y1="321.80" x2="210.00" y2="321.80" stroke="#262626" stroke-width="0.9" />
<text x="205.00" y="324.14" font-size="6.5" text-anchor="end" fill="#2b2b2b" font-weight="normal" stroke="#2b2b2b" stroke-width="0.18" textLength="3.75" lengthAdjust="spacingAndGlyphs" >0</text>
<line x1="207.20" y1="306.55" x2="210.00" y2="306.55" stroke="#262626" stroke-width="0.9" />
<text x="205.00" y="308.89" font-size="6.5" text-anchor="end" fill="#2b2b2b" font-weight="normal" stroke="#2b2b2b" stroke-width="0.18" textLength="11.25" lengthAdjust="spacingAndGlyphs" >100</text>
<line x1="207.20" y1="291.30" x2="210.00" y2="291.30" stroke="#262626" stroke-width="0.9" />
<text x="205.00" y="293.64" font-size="6.5" text-anchor="end" fill="#2b2b2b" font-weight="normal" stroke="#2b2b2b" stroke-width="0.18" textLength="11.25" lengthAdjust="spacingAndGlyphs" >200</text>
<line x1="207.20" y1="276.05" x2="210.00" y2="276.05" stroke="#262626" stroke-width="0.9" />
<text x="205.00" y="278.39" font-size="6.5" text-anchor="end" fill="#2b2b2b" font-weight="normal" stroke="#2b2b2b" stroke-width="0.18" textLength="11.25" lengthAdjust="spacingAndGlyphs" >300</text>
<line x1="207.20" y1="260.80" x2="210.00" y2="260.80" stroke="#262626" stroke-width="0.9" />
<text x="205.00" y="263.14" font-size="6.5" text-anchor="end" fill="#2b2b2b" font-weight="normal" stroke="#2b2b2b" stroke-width="0.18" textLength="11.25" lengthAdjust="spacingAndGlyphs" >400</text>
<line x1="224.10" y1="321.80" x2="224.10" y2="324.20" stroke="#262626" stroke-width="0.9" />
<line x1="256.70" y1="321.80" x2="256.70" y2="324.20" stroke="#262626" stroke-width="0.9" />
<text x="212.80" y="264.60" font-size="6.6" text-anchor="start" fill="#2b2b2b" font-weight="normal" stroke="#2b2b2b" stroke-width="0.18" textLength="12.5" lengthAdjust="spacingAndGlyphs" >IFN&#945;</text>
<text x="224.50" y="333.50" font-size="7.0" text-anchor="middle" fill="#2b2b2b" font-weight="normal" stroke="#2b2b2b" stroke-width="0.18" textLength="21.2" lengthAdjust="spacingAndGlyphs" >control</text>
<text x="256.40" y="333.50" font-size="7.0" text-anchor="middle" fill="#2b2b2b" font-weight="normal" stroke="#2b2b2b" stroke-width="0.18" textLength="24.0" lengthAdjust="spacingAndGlyphs" >Poly(I:C)</text>
<text x="0" y="0" font-size="9.2" text-anchor="middle" fill="#2b2b2b" stroke="#2b2b2b" stroke-width="0.25" transform="translate(288.40,289.80) rotate(-90)" textLength="43.5" lengthAdjust="spacingAndGlyphs">Secreted IFN&#946;</text>
<text x="0" y="0" font-size="9.2" text-anchor="middle" fill="#2b2b2b" stroke="#2b2b2b" stroke-width="0.25" transform="translate(297.90,290.00) rotate(-90)" textLength="35.4" lengthAdjust="spacingAndGlyphs">% of control</text>
<rect x="324.00" y="321.00" width="8.80" height="0.80" fill="#cdced6" />
<circle cx="324.88" cy="321.00" r="1.5" fill="#454b63"/>
<circle cx="326.64" cy="320.60" r="1.5" fill="#454b63"/>
<circle cx="328.40" cy="321.00" r="1.5" fill="#454b63"/>
<circle cx="330.16" cy="320.60" r="1.5" fill="#454b63"/>
<circle cx="331.92" cy="321.00" r="1.5" fill="#454b63"/>
<rect x="336.40" y="321.00" width="8.80" height="0.80" fill="#fde3a2" />
<rect x="335.49" y="319.65" width="2.7" height="2.7" fill="#f2c044"/>
<rect x="337.25" y="319.05" width="2.7" height="2.7" fill="#f2c044"/>
<rect x="339.01" y="319.65" width="2.7" height="2.7" fill="#f2c044"/>
<rect x="340.77" y="319.05" width="2.7" height="2.7" fill="#f2c044"/>
<rect x="342.53" y="319.65" width="2.7" height="2.7" fill="#f2c044"/>
<rect x="343.85" y="319.45" width="2.7" height="2.7" fill="#f2c044"/>
<rect x="356.40" y="292.50" width="8.80" height="29.30" fill="#cdced6" />
<line x1="360.80" y1="290.00" x2="360.80" y2="298.00" stroke="#454b63" stroke-width="0.8" />
<line x1="359.20" y1="290.00" x2="362.40" y2="290.00" stroke="#454b63" stroke-width="0.8" />
<line x1="359.20" y1="298.00" x2="362.40" y2="298.00" stroke="#454b63" stroke-width="0.8" />
<circle cx="358.16" cy="291.50" r="1.5" fill="#454b63"/>
<circle cx="360.80" cy="291.00" r="1.5" fill="#454b63"/>
<circle cx="363.44" cy="290.00" r="1.5" fill="#454b63"/>
<circle cx="358.16" cy="294.00" r="1.5" fill="#454b63"/>
<circle cx="360.80" cy="294.50" r="1.5" fill="#454b63"/>
<circle cx="363.44" cy="294.50" r="1.5" fill="#454b63"/>
<circle cx="360.80" cy="297.00" r="1.5" fill="#454b63"/>
<rect x="368.80" y="287.00" width="8.80" height="34.80" fill="#fde3a2" />
<line x1="373.20" y1="271.50" x2="373.20" y2="301.50" stroke="#f2c044" stroke-width="0.8" />
<line x1="371.60" y1="271.50" x2="374.80" y2="271.50" stroke="#f2c044" stroke-width="0.8" />
<line x1="371.60" y1="301.50" x2="374.80" y2="301.50" stroke="#f2c044" stroke-width="0.8" />
<rect x="371.85" y="266.65" width="2.7" height="2.7" fill="#f2c044"/>
<rect x="371.85" y="273.15" width="2.7" height="2.7" fill="#f2c044"/>
<rect x="369.21" y="280.65" width="2.7" height="2.7" fill="#f2c044"/>
<rect x="374.49" y="284.65" width="2.7" height="2.7" fill="#f2c044"/>
<rect x="370.09" y="294.65" width="2.7" height="2.7" fill="#f2c044"/>
<rect x="374.49" y="295.65" width="2.7" height="2.7" fill="#f2c044"/>
<rect x="371.85" y="296.65" width="2.7" height="2.7" fill="#f2c044"/>
<line x1="321.30" y1="258.00" x2="321.30" y2="322.43" stroke="#262626" stroke-width="1.25" />
<line x1="320.68" y1="321.80" x2="381.50" y2="321.80" stroke="#262626" stroke-width="1.25" />
<line x1="318.50" y1="321.80" x2="321.30" y2="321.80" stroke="#262626" stroke-width="0.9" />
<text x="316.30" y="324.14" font-size="6.5" text-anchor="end" fill="#2b2b2b" font-weight="normal" stroke="#2b2b2b" stroke-width="0.18" textLength="3.75" lengthAdjust="spacingAndGlyphs" >0</text>
<line x1="318.50" y1="309.60" x2="321.30" y2="309.60" stroke="#262626" stroke-width="0.9" />
<text x="316.30" y="311.94" font-size="6.5" text-anchor="end" fill="#2b2b2b" font-weight="normal" stroke="#2b2b2b" stroke-width="0.18" textLength="7.5" lengthAdjust="spacingAndGlyphs" >50</text>
<line x1="318.50" y1="297.40" x2="321.30" y2="297.40" stroke="#262626" stroke-width="0.9" />
<text x="316.30" y="299.74" font-size="6.5" text-anchor="end" fill="#2b2b2b" font-weight="normal" stroke="#2b2b2b" stroke-width="0.18" textLength="11.25" lengthAdjust="spacingAndGlyphs" >100</text>
<line x1="318.50" y1="285.20" x2="321.30" y2="285.20" stroke="#262626" stroke-width="0.9" />
<text x="316.30" y="287.54" font-size="6.5" text-anchor="end" fill="#2b2b2b" font-weight="normal" stroke="#2b2b2b" stroke-width="0.18" textLength="11.25" lengthAdjust="spacingAndGlyphs" >150</text>
<line x1="318.50" y1="273.00" x2="321.30" y2="273.00" stroke="#262626" stroke-width="0.9" />
<text x="316.30" y="275.34" font-size="6.5" text-anchor="end" fill="#2b2b2b" font-weight="normal" stroke="#2b2b2b" stroke-width="0.18" textLength="11.25" lengthAdjust="spacingAndGlyphs" >200</text>
<line x1="318.50" y1="260.80" x2="321.30" y2="260.80" stroke="#262626" stroke-width="0.9" />
<text x="316.30" y="263.14" font-size="6.5" text-anchor="end" fill="#2b2b2b" font-weight="normal" stroke="#2b2b2b" stroke-width="0.18" textLength="11.25" lengthAdjust="spacingAndGlyphs" >250</text>
<line x1="334.00" y1="321.80" x2="334.00" y2="324.20" stroke="#262626" stroke-width="0.9" />
<line x1="366.50" y1="321.80" x2="366.50" y2="324.20" stroke="#262626" stroke-width="0.9" />
<polyline points="360.60,265.40 360.60,261.20 372.60,261.20 372.60,265.40" fill="none" stroke="#262626" stroke-width="0.95"/>
<text x="366.60" y="261.40" font-size="7" text-anchor="middle" fill="#2b2b2b" font-weight="normal" stroke="#2b2b2b" stroke-width="0.18" >*</text>
<text x="324.60" y="265.40" font-size="6.6" text-anchor="start" fill="#2b2b2b" font-weight="normal" stroke="#2b2b2b" stroke-width="0.18" textLength="12.0" lengthAdjust="spacingAndGlyphs" >IFN&#946;</text>
<text x="334.60" y="333.50" font-size="7.0" text-anchor="middle" fill="#2b2b2b" font-weight="normal" stroke="#2b2b2b" stroke-width="0.18" textLength="21.2" lengthAdjust="spacingAndGlyphs" >control</text>
<text x="366.30" y="333.50" font-size="7.0" text-anchor="middle" fill="#2b2b2b" font-weight="normal" stroke="#2b2b2b" stroke-width="0.18" textLength="24.0" lengthAdjust="spacingAndGlyphs" >Poly(I:C)</text>
<circle cx="256.60" cy="343.50" r="1.6" fill="#454b63"/>
<text x="260.60" y="345.50" font-size="7.0" text-anchor="start" fill="#2b2b2b" font-weight="normal" stroke="#2b2b2b" stroke-width="0.18" textLength="17.8" lengthAdjust="spacingAndGlyphs" >IgG2a</text>
<rect x="284.50" y="342.00" width="3.0" height="3.0" fill="#f2c044"/>
<text x="290.60" y="345.50" font-size="7.0" text-anchor="start" fill="#2b2b2b" font-weight="normal" stroke="#2b2b2b" stroke-width="0.18" textLength="37.2" lengthAdjust="spacingAndGlyphs" >anti-TF43D8</text>
<text x="0" y="0" font-size="12.0" font-weight="bold" fill="#111" stroke="#111" stroke-width="0.25" transform="translate(396.45,250.60) scale(1.063,1)">H</text>
<text x="0" y="0" font-size="9.2" text-anchor="middle" fill="#2b2b2b" stroke="#2b2b2b" stroke-width="0.25" transform="translate(413.90,288.00) rotate(-90)" textLength="31.1" lengthAdjust="spacingAndGlyphs">Migration</text>
<text x="0" y="0" font-size="9.2" text-anchor="middle" fill="#2b2b2b" stroke="#2b2b2b" stroke-width="0.25" transform="translate(424.10,289.00) rotate(-90)" textLength="39.8" lengthAdjust="spacingAndGlyphs">% of control</text>
<rect x="450.90" y="306.80" width="8.10" height="14.70" fill="#cdced6" />
<circle cx="451.80" cy="300.50" r="1.5" fill="#454b63"/>
<circle cx="457.60" cy="301.40" r="1.5" fill="#454b63"/>
<circle cx="454.60" cy="306.00" r="1.5" fill="#454b63"/>
<circle cx="451.80" cy="309.00" r="1.5" fill="#454b63"/>
<circle cx="457.60" cy="311.10" r="1.5" fill="#454b63"/>
<circle cx="451.80" cy="312.60" r="1.5" fill="#454b63"/>
<rect x="462.60" y="301.40" width="8.00" height="20.10" fill="#fde3a2" />
<rect x="465.35" y="292.25" width="2.7" height="2.7" fill="#f2c044"/>
<rect x="462.65" y="298.85" width="2.7" height="2.7" fill="#f2c044"/>
<rect x="468.55" y="300.65" width="2.7" height="2.7" fill="#f2c044"/>
<rect x="465.35" y="303.95" width="2.7" height="2.7" fill="#f2c044"/>
<rect x="462.65" y="312.65" width="2.7" height="2.7" fill="#f2c044"/>
<rect x="468.55" y="311.25" width="2.7" height="2.7" fill="#f2c044"/>
<rect x="483.50" y="279.80" width="7.60" height="41.70" fill="#cdced6" />
<line x1="487.30" y1="276.20" x2="487.30" y2="286.00" stroke="#454b63" stroke-width="0.8" />
<line x1="485.70" y1="276.20" x2="488.90" y2="276.20" stroke="#454b63" stroke-width="0.8" />
<line x1="485.70" y1="286.00" x2="488.90" y2="286.00" stroke="#454b63" stroke-width="0.8" />
<circle cx="486.80" cy="267.40" r="1.5" fill="#454b63"/>
<circle cx="483.80" cy="276.10" r="1.5" fill="#454b63"/>
<circle cx="489.60" cy="277.60" r="1.5" fill="#454b63"/>
<circle cx="486.80" cy="281.30" r="1.5" fill="#454b63"/>
<circle cx="486.80" cy="285.60" r="1.5" fill="#454b63"/>
<circle cx="486.80" cy="289.70" r="1.5" fill="#454b63"/>
<rect x="495.10" y="301.40" width="7.90" height="20.10" fill="#fde3a2" />
<rect x="500.65" y="291.85" width="2.7" height="2.7" fill="#f2c044"/>
<rect x="494.75" y="293.75" width="2.7" height="2.7" fill="#f2c044"/>
<rect x="497.75" y="296.65" width="2.7" height="2.7" fill="#f2c044"/>
<rect x="494.75" y="301.75" width="2.7" height="2.7" fill="#f2c044"/>
<rect x="500.65" y="301.75" width="2.7" height="2.7" fill="#f2c044"/>
<rect x="497.75" y="309.75" width="2.7" height="2.7" fill="#f2c044"/>
<line x1="446.30" y1="258.00" x2="446.30" y2="322.12" stroke="#262626" stroke-width="1.25" />
<line x1="445.68" y1="321.50" x2="507.60" y2="321.50" stroke="#262626" stroke-width="1.25" />
<line x1="443.50" y1="321.50" x2="446.30" y2="321.50" stroke="#262626" stroke-width="0.9" />
<text x="441.30" y="323.84" font-size="6.5" text-anchor="end" fill="#2b2b2b" font-weight="normal" stroke="#2b2b2b" stroke-width="0.18" textLength="3.75" lengthAdjust="spacingAndGlyphs" >0</text>
<line x1="443.50" y1="306.32" x2="446.30" y2="306.32" stroke="#262626" stroke-width="0.9" />
<text x="441.30" y="308.66" font-size="6.5" text-anchor="end" fill="#2b2b2b" font-weight="normal" stroke="#2b2b2b" stroke-width="0.18" textLength="11.25" lengthAdjust="spacingAndGlyphs" >100</text>
<line x1="443.50" y1="291.15" x2="446.30" y2="291.15" stroke="#262626" stroke-width="0.9" />
<text x="441.30" y="293.49" font-size="6.5" text-anchor="end" fill="#2b2b2b" font-weight="normal" stroke="#2b2b2b" stroke-width="0.18" textLength="11.25" lengthAdjust="spacingAndGlyphs" >200</text>
<line x1="443.50" y1="275.98" x2="446.30" y2="275.98" stroke="#262626" stroke-width="0.9" />
<text x="441.30" y="278.31" font-size="6.5" text-anchor="end" fill="#2b2b2b" font-weight="normal" stroke="#2b2b2b" stroke-width="0.18" textLength="11.25" lengthAdjust="spacingAndGlyphs" >300</text>
<line x1="443.50" y1="260.80" x2="446.30" y2="260.80" stroke="#262626" stroke-width="0.9" />
<text x="441.30" y="263.14" font-size="6.5" text-anchor="end" fill="#2b2b2b" font-weight="normal" stroke="#2b2b2b" stroke-width="0.18" textLength="11.25" lengthAdjust="spacingAndGlyphs" >400</text>
<line x1="460.40" y1="321.50" x2="460.40" y2="323.90" stroke="#262626" stroke-width="0.9" />
<line x1="492.50" y1="321.50" x2="492.50" y2="323.90" stroke="#262626" stroke-width="0.9" />
<polyline points="486.70,263.10 486.70,260.10 499.50,260.10 499.50,263.10" fill="none" stroke="#262626" stroke-width="0.95"/>
<text x="493.10" y="260.30" font-size="7" text-anchor="middle" fill="#2b2b2b" font-weight="normal" stroke="#2b2b2b" stroke-width="0.18" >***</text>
<text x="460.80" y="333.50" font-size="7.0" text-anchor="middle" fill="#2b2b2b" font-weight="normal" stroke="#2b2b2b" stroke-width="0.18" textLength="21.2" lengthAdjust="spacingAndGlyphs" >control</text>
<text x="491.30" y="333.50" font-size="7.0" text-anchor="middle" fill="#2b2b2b" font-weight="normal" stroke="#2b2b2b" stroke-width="0.18" textLength="23.0" lengthAdjust="spacingAndGlyphs" >poly(I:C)</text>
<circle cx="441.30" cy="340.20" r="1.6" fill="#454b63"/>
<text x="445.40" y="342.20" font-size="7.0" text-anchor="start" fill="#2b2b2b" font-weight="normal" stroke="#2b2b2b" stroke-width="0.18" textLength="18.4" lengthAdjust="spacingAndGlyphs" >IgG2a</text>
<rect x="469.10" y="338.70" width="3.0" height="3.0" fill="#f2c044"/>
<text x="475.00" y="342.20" font-size="7.0" text-anchor="start" fill="#2b2b2b" font-weight="normal" stroke="#2b2b2b" stroke-width="0.18" textLength="37.2" lengthAdjust="spacingAndGlyphs" >anti-TF43D8</text>
<text x="0" y="0" font-size="12.0" font-weight="bold" fill="#111" stroke="#111" stroke-width="0.25" transform="translate(7.31,370.00) scale(0.984,1)">I</text>
<text x="0" y="0" font-size="9.2" text-anchor="middle" fill="#2b2b2b" stroke="#2b2b2b" stroke-width="0.25" transform="translate(21.20,410.00) rotate(-90)" textLength="41.2" lengthAdjust="spacingAndGlyphs">Secrected TNF</text>
<text x="0" y="0" font-size="9.2" text-anchor="middle" fill="#2b2b2b" stroke="#2b2b2b" stroke-width="0.25" transform="translate(31.40,410.40) rotate(-90)" textLength="36.2" lengthAdjust="spacingAndGlyphs">% of control</text>
<rect x="58.00" y="436.30" width="9.30" height="5.20" fill="#cdced6" />
<line x1="62.65" y1="429.50" x2="62.65" y2="441.00" stroke="#454b63" stroke-width="0.8" />
<line x1="61.05" y1="429.50" x2="64.25" y2="429.50" stroke="#454b63" stroke-width="0.8" />
<line x1="61.05" y1="441.00" x2="64.25" y2="441.00" stroke="#454b63" stroke-width="0.8" />
<polygon points="57.75,427.51 61.05,427.51 59.40,430.49" fill="#454b63"/>
<polygon points="61.93,429.01 65.23,429.01 63.58,431.99" fill="#454b63"/>
<polygon points="61.00,437.01 64.30,437.01 62.65,439.99" fill="#454b63"/>
<polygon points="58.21,438.51 61.51,438.51 59.86,441.49" fill="#454b63"/>
<polygon points="63.79,439.01 67.09,439.01 65.44,441.99" fill="#454b63"/>
<rect x="71.60" y="411.50" width="9.30" height="30.00" fill="#cdced6" />
<line x1="76.25" y1="404.50" x2="76.25" y2="418.50" stroke="#454b63" stroke-width="0.8" />
<line x1="74.65" y1="404.50" x2="77.85" y2="404.50" stroke="#454b63" stroke-width="0.8" />
<line x1="74.65" y1="418.50" x2="77.85" y2="418.50" stroke="#454b63" stroke-width="0.8" />
<rect x="74.90" y="398.65" width="2.7" height="2.7" fill="#454b63"/>
<rect x="71.64" y="409.65" width="2.7" height="2.7" fill="#454b63"/>
<rect x="78.16" y="408.15" width="2.7" height="2.7" fill="#454b63"/>
<rect x="74.90" y="412.15" width="2.7" height="2.7" fill="#454b63"/>
<rect x="71.64" y="416.65" width="2.7" height="2.7" fill="#454b63"/>
<rect x="78.16" y="417.15" width="2.7" height="2.7" fill="#454b63"/>
<rect x="85.60" y="417.30" width="9.30" height="24.20" fill="#cdced6" />
<line x1="90.25" y1="410.50" x2="90.25" y2="427.50" stroke="#454b63" stroke-width="0.8" />
<line x1="88.65" y1="410.50" x2="91.85" y2="410.50" stroke="#454b63" stroke-width="0.8" />
<line x1="88.65" y1="427.50" x2="91.85" y2="427.50" stroke="#454b63" stroke-width="0.8" />
<polygon points="88.60,411.49 91.90,411.49 90.25,408.51" fill="#454b63"/>
<polygon points="85.34,415.49 88.64,415.49 86.99,412.51" fill="#454b63"/>
<polygon points="91.85,416.99 95.16,416.99 93.50,414.01" fill="#454b63"/>
<polygon points="88.60,419.49 91.90,419.49 90.25,416.51" fill="#454b63"/>
<polygon points="85.81,421.49 89.11,421.49 87.46,418.51" fill="#454b63"/>
<polygon points="91.39,422.49 94.69,422.49 93.04,419.51" fill="#454b63"/>
<polygon points="88.60,430.49 91.90,430.49 90.25,427.51" fill="#454b63"/>
<rect x="99.60" y="426.00" width="9.30" height="15.50" fill="#cdced6" />
<line x1="104.25" y1="418.00" x2="104.25" y2="436.00" stroke="#454b63" stroke-width="0.8" />
<line x1="102.65" y1="418.00" x2="105.85" y2="418.00" stroke="#454b63" stroke-width="0.8" />
<line x1="102.65" y1="436.00" x2="105.85" y2="436.00" stroke="#454b63" stroke-width="0.8" />
<polygon points="99.34,414.51 102.64,414.51 100.99,417.49" fill="#454b63"/>
<polygon points="105.85,415.51 109.16,415.51 107.50,418.49" fill="#454b63"/>
<polygon points="102.60,424.51 105.90,424.51 104.25,427.49" fill="#454b63"/>
<polygon points="99.81,429.51 103.11,429.51 101.46,432.49" fill="#454b63"/>
<polygon points="105.39,430.51 108.69,430.51 107.04,433.49" fill="#454b63"/>
<polygon points="102.60,432.51 105.90,432.51 104.25,435.49" fill="#454b63"/>
<line x1="52.80" y1="378.50" x2="52.80" y2="442.12" stroke="#262626" stroke-width="1.25" />
<line x1="52.17" y1="441.50" x2="114.00" y2="441.50" stroke="#262626" stroke-width="1.25" />
<line x1="50.00" y1="441.50" x2="52.80" y2="441.50" stroke="#262626" stroke-width="0.9" />
<text x="47.80" y="443.84" font-size="6.5" text-anchor="end" fill="#2b2b2b" font-weight="normal" stroke="#2b2b2b" stroke-width="0.18" textLength="3.75" lengthAdjust="spacingAndGlyphs" >0</text>
<line x1="50.00" y1="426.40" x2="52.80" y2="426.40" stroke="#262626" stroke-width="0.9" />
<text x="47.80" y="428.74" font-size="6.5" text-anchor="end" fill="#2b2b2b" font-weight="normal" stroke="#2b2b2b" stroke-width="0.18" textLength="7.5" lengthAdjust="spacingAndGlyphs" >50</text>
<line x1="50.00" y1="411.30" x2="52.80" y2="411.30" stroke="#262626" stroke-width="0.9" />
<text x="47.80" y="413.64" font-size="6.5" text-anchor="end" fill="#2b2b2b" font-weight="normal" stroke="#2b2b2b" stroke-width="0.18" textLength="11.25" lengthAdjust="spacingAndGlyphs" >100</text>
<line x1="50.00" y1="396.20" x2="52.80" y2="396.20" stroke="#262626" stroke-width="0.9" />
<text x="47.80" y="398.54" font-size="6.5" text-anchor="end" fill="#2b2b2b" font-weight="normal" stroke="#2b2b2b" stroke-width="0.18" textLength="11.25" lengthAdjust="spacingAndGlyphs" >150</text>
<line x1="50.00" y1="381.10" x2="52.80" y2="381.10" stroke="#262626" stroke-width="0.9" />
<text x="47.80" y="383.44" font-size="6.5" text-anchor="end" fill="#2b2b2b" font-weight="normal" stroke="#2b2b2b" stroke-width="0.18" textLength="11.25" lengthAdjust="spacingAndGlyphs" >200</text>
<polyline points="75.80,396.80 75.80,392.60 104.40,392.60 104.40,396.80" fill="none" stroke="#262626" stroke-width="0.95"/>
<text x="90.10" y="392.80" font-size="7" text-anchor="middle" fill="#2b2b2b" font-weight="normal" stroke="#2b2b2b" stroke-width="0.18" >*</text>
<text x="56.00" y="387.00" font-size="6.6" text-anchor="start" fill="#2b2b2b" font-weight="normal" stroke="#2b2b2b" stroke-width="0.18" textLength="12.2" lengthAdjust="spacingAndGlyphs" >TNF</text>
<text x="21.60" y="454.20" font-size="6.5" text-anchor="start" fill="#2b2b2b" font-weight="normal" stroke="#2b2b2b" stroke-width="0.08" textLength="24.6" lengthAdjust="spacingAndGlyphs" >Poly(I:C)</text>
<text x="21.60" y="463.70" font-size="6.5" text-anchor="start" fill="#2b2b2b" font-weight="normal" stroke="#2b2b2b" stroke-width="0.08" textLength="13.4" lengthAdjust="spacingAndGlyphs" >p38i</text>
<text x="21.60" y="473.90" font-size="6.5" text-anchor="start" fill="#2b2b2b" font-weight="normal" stroke="#2b2b2b" stroke-width="0.08" textLength="13.8" lengthAdjust="spacingAndGlyphs" >ERKi</text>
<line x1="60.10" y1="452.30" x2="63.50" y2="452.30" stroke="#444" stroke-width="0.75" />
<line x1="60.10" y1="461.80" x2="63.50" y2="461.80" stroke="#444" stroke-width="0.75" />
<line x1="60.10" y1="472.00" x2="63.50" y2="472.00" stroke="#444" stroke-width="0.75" />
<line x1="74.90" y1="452.30" x2="77.90" y2="452.30" stroke="#333" stroke-width="0.75" />
<line x1="76.40" y1="450.80" x2="76.40" y2="453.80" stroke="#333" stroke-width="0.75" />
<line x1="74.70" y1="461.80" x2="78.10" y2="461.80" stroke="#444" stroke-width="0.75" />
<line x1="74.70" y1="472.00" x2="78.10" y2="472.00" stroke="#444" stroke-width="0.75" />
<line x1="89.30" y1="452.30" x2="92.30" y2="452.30" stroke="#333" stroke-width="0.75" />
<line x1="90.80" y1="450.80" x2="90.80" y2="453.80" stroke="#333" stroke-width="0.75" />
<line x1="89.30" y1="461.80" x2="92.30" y2="461.80" stroke="#333" stroke-width="0.75" />
<line x1="90.80" y1="460.30" x2="90.80" y2="463.30" stroke="#333" stroke-width="0.75" />
<line x1="89.10" y1="472.00" x2="92.50" y2="472.00" stroke="#444" stroke-width="0.75" />
<line x1="102.90" y1="452.30" x2="105.90" y2="452.30" stroke="#333" stroke-width="0.75" />
<line x1="104.40" y1="450.80" x2="104.40" y2="453.80" stroke="#333" stroke-width="0.75" />
<line x1="102.70" y1="461.80" x2="106.10" y2="461.80" stroke="#444" stroke-width="0.75" />
<line x1="102.90" y1="472.00" x2="105.90" y2="472.00" stroke="#333" stroke-width="0.75" />
<line x1="104.40" y1="470.50" x2="104.40" y2="473.50" stroke="#333" stroke-width="0.75" />
<text x="0" y="0" font-size="9.2" text-anchor="middle" fill="#2b2b2b" stroke="#2b2b2b" stroke-width="0.25" transform="translate(131.20,408.00) rotate(-90)" textLength="45.6" lengthAdjust="spacingAndGlyphs">Secreted IFN&#945;</text>
<text x="0" y="0" font-size="9.2" text-anchor="middle" fill="#2b2b2b" stroke="#2b2b2b" stroke-width="0.25" transform="translate(140.60,408.50) rotate(-90)" textLength="36.9" lengthAdjust="spacingAndGlyphs">% of control</text>
<rect x="168.00" y="438.00" width="9.30" height="3.50" fill="#cdced6" />
<circle cx="169.86" cy="437.80" r="1.5" fill="#454b63"/>
<circle cx="172.65" cy="437.50" r="1.5" fill="#454b63"/>
<circle cx="175.44" cy="437.80" r="1.5" fill="#454b63"/>
<rect x="181.90" y="417.30" width="9.30" height="24.20" fill="#cdced6" />
<line x1="186.55" y1="404.00" x2="186.55" y2="430.00" stroke="#454b63" stroke-width="0.8" />
<line x1="184.95" y1="404.00" x2="188.15" y2="404.00" stroke="#454b63" stroke-width="0.8" />
<line x1="184.95" y1="430.00" x2="188.15" y2="430.00" stroke="#454b63" stroke-width="0.8" />
<rect x="185.20" y="402.15" width="2.7" height="2.7" fill="#454b63"/>
<rect x="185.20" y="406.15" width="2.7" height="2.7" fill="#454b63"/>
<rect x="185.20" y="414.65" width="2.7" height="2.7" fill="#454b63"/>
<rect x="182.41" y="425.65" width="2.7" height="2.7" fill="#454b63"/>
<rect x="185.20" y="426.15" width="2.7" height="2.7" fill="#454b63"/>
<rect x="187.99" y="425.65" width="2.7" height="2.7" fill="#454b63"/>
<rect x="195.70" y="415.10" width="9.30" height="26.40" fill="#cdced6" />
<line x1="200.35" y1="398.50" x2="200.35" y2="431.00" stroke="#454b63" stroke-width="0.8" />
<line x1="198.75" y1="398.50" x2="201.95" y2="398.50" stroke="#454b63" stroke-width="0.8" />
<line x1="198.75" y1="431.00" x2="201.95" y2="431.00" stroke="#454b63" stroke-width="0.8" />
<polygon points="198.70,392.49 202.00,392.49 200.35,389.51" fill="#454b63"/>
<polygon points="195.91,415.99 199.21,415.99 197.56,413.01" fill="#454b63"/>
<polygon points="201.95,414.49 205.25,414.49 203.60,411.51" fill="#454b63"/>
<polygon points="198.70,424.49 202.00,424.49 200.35,421.51" fill="#454b63"/>
<polygon points="198.70,431.49 202.00,431.49 200.35,428.51" fill="#454b63"/>
<rect x="210.30" y="421.00" width="9.30" height="20.50" fill="#cdced6" />
<line x1="214.95" y1="411.00" x2="214.95" y2="424.50" stroke="#454b63" stroke-width="0.8" />
<line x1="213.35" y1="411.00" x2="216.55" y2="411.00" stroke="#454b63" stroke-width="0.8" />
<line x1="213.35" y1="424.50" x2="216.55" y2="424.50" stroke="#454b63" stroke-width="0.8" />
<polygon points="213.30,406.51 216.60,406.51 214.95,409.49" fill="#454b63"/>
<polygon points="210.51,414.51 213.81,414.51 212.16,417.49" fill="#454b63"/>
<polygon points="216.09,416.51 219.39,416.51 217.74,419.49" fill="#454b63"/>
<polygon points="213.30,419.51 216.60,419.51 214.95,422.49" fill="#454b63"/>
<polygon points="210.51,420.51 213.81,420.51 212.16,423.49" fill="#454b63"/>
<polygon points="216.09,421.51 219.39,421.51 217.74,424.49" fill="#454b63"/>
<line x1="162.00" y1="378.50" x2="162.00" y2="442.12" stroke="#262626" stroke-width="1.25" />
<line x1="161.38" y1="441.50" x2="222.60" y2="441.50" stroke="#262626" stroke-width="1.25" />
<line x1="159.20" y1="441.50" x2="162.00" y2="441.50" stroke="#262626" stroke-width="0.9" />
<text x="157.00" y="443.84" font-size="6.5" text-anchor="end" fill="#2b2b2b" font-weight="normal" stroke="#2b2b2b" stroke-width="0.18" textLength="3.75" lengthAdjust="spacingAndGlyphs" >0</text>
<line x1="159.20" y1="429.16" x2="162.00" y2="429.16" stroke="#262626" stroke-width="0.9" />
<text x="157.00" y="431.50" font-size="6.5" text-anchor="end" fill="#2b2b2b" font-weight="normal" stroke="#2b2b2b" stroke-width="0.18" textLength="7.5" lengthAdjust="spacingAndGlyphs" >50</text>
<line x1="159.20" y1="416.82" x2="162.00" y2="416.82" stroke="#262626" stroke-width="0.9" />
<text x="157.00" y="419.16" font-size="6.5" text-anchor="end" fill="#2b2b2b" font-weight="normal" stroke="#2b2b2b" stroke-width="0.18" textLength="11.25" lengthAdjust="spacingAndGlyphs" >100</text>
<line x1="159.20" y1="404.48" x2="162.00" y2="404.48" stroke="#262626" stroke-width="0.9" />
<text x="157.00" y="406.82" font-size="6.5" text-anchor="end" fill="#2b2b2b" font-weight="normal" stroke="#2b2b2b" stroke-width="0.18" textLength="11.25" lengthAdjust="spacingAndGlyphs" >150</text>
<line x1="159.20" y1="392.14" x2="162.00" y2="392.14" stroke="#262626" stroke-width="0.9" />
<text x="157.00" y="394.48" font-size="6.5" text-anchor="end" fill="#2b2b2b" font-weight="normal" stroke="#2b2b2b" stroke-width="0.18" textLength="11.25" lengthAdjust="spacingAndGlyphs" >200</text>
<line x1="159.20" y1="379.80" x2="162.00" y2="379.80" stroke="#262626" stroke-width="0.9" />
<text x="157.00" y="382.14" font-size="6.5" text-anchor="end" fill="#2b2b2b" font-weight="normal" stroke="#2b2b2b" stroke-width="0.18" textLength="11.25" lengthAdjust="spacingAndGlyphs" >250</text>
<text x="166.40" y="386.00" font-size="6.6" text-anchor="start" fill="#2b2b2b" font-weight="normal" stroke="#2b2b2b" stroke-width="0.18" textLength="13.5" lengthAdjust="spacingAndGlyphs" >IFN&#945;</text>
<text x="131.70" y="454.20" font-size="6.5" text-anchor="start" fill="#2b2b2b" font-weight="normal" stroke="#2b2b2b" stroke-width="0.08" textLength="24.6" lengthAdjust="spacingAndGlyphs" >Poly(I:C)</text>
<text x="131.70" y="463.70" font-size="6.5" text-anchor="start" fill="#2b2b2b" font-weight="normal" stroke="#2b2b2b" stroke-width="0.08" textLength="13.4" lengthAdjust="spacingAndGlyphs" >p38i</text>
<text x="131.70" y="473.90" font-size="6.5" text-anchor="start" fill="#2b2b2b" font-weight="normal" stroke="#2b2b2b" stroke-width="0.08" textLength="13.8" lengthAdjust="spacingAndGlyphs" >ERKi</text>
<line x1="170.60" y1="452.30" x2="174.00" y2="452.30" stroke="#444" stroke-width="0.75" />
<line x1="170.60" y1="461.80" x2="174.00" y2="461.80" stroke="#444" stroke-width="0.75" />
<line x1="170.60" y1="472.00" x2="174.00" y2="472.00" stroke="#444" stroke-width="0.75" />
<line x1="185.20" y1="452.30" x2="188.20" y2="452.30" stroke="#333" stroke-width="0.75" />
<line x1="186.70" y1="450.80" x2="186.70" y2="453.80" stroke="#333" stroke-width="0.75" />
<line x1="185.00" y1="461.80" x2="188.40" y2="461.80" stroke="#444" stroke-width="0.75" />
<line x1="185.00" y1="472.00" x2="188.40" y2="472.00" stroke="#444" stroke-width="0.75" />
<line x1="199.20" y1="452.30" x2="202.20" y2="452.30" stroke="#333" stroke-width="0.75" />
<line x1="200.70" y1="450.80" x2="200.70" y2="453.80" stroke="#333" stroke-width="0.75" />
<line x1="199.20" y1="461.80" x2="202.20" y2="461.80" stroke="#333" stroke-width="0.75" />
<line x1="200.70" y1="460.30" x2="200.70" y2="463.30" stroke="#333" stroke-width="0.75" />
<line x1="199.00" y1="472.00" x2="202.40" y2="472.00" stroke="#444" stroke-width="0.75" />
<line x1="212.80" y1="452.30" x2="215.80" y2="452.30" stroke="#333" stroke-width="0.75" />
<line x1="214.30" y1="450.80" x2="214.30" y2="453.80" stroke="#333" stroke-width="0.75" />
<line x1="212.60" y1="461.80" x2="216.00" y2="461.80" stroke="#444" stroke-width="0.75" />
<line x1="212.80" y1="472.00" x2="215.80" y2="472.00" stroke="#333" stroke-width="0.75" />
<line x1="214.30" y1="470.50" x2="214.30" y2="473.50" stroke="#333" stroke-width="0.75" />
<text x="0" y="0" font-size="9.2" text-anchor="middle" fill="#2b2b2b" stroke="#2b2b2b" stroke-width="0.25" transform="translate(241.20,407.50) rotate(-90)" textLength="44.9" lengthAdjust="spacingAndGlyphs">Secreted IFN&#946;</text>
<text x="0" y="0" font-size="9.2" text-anchor="middle" fill="#2b2b2b" stroke="#2b2b2b" stroke-width="0.25" transform="translate(251.00,408.20) rotate(-90)" textLength="36.2" lengthAdjust="spacingAndGlyphs">% of control</text>
<rect x="277.40" y="439.50" width="9.30" height="2.00" fill="#cdced6" />
<circle cx="279.26" cy="437.00" r="1.5" fill="#454b63"/>
<circle cx="282.05" cy="439.50" r="1.5" fill="#454b63"/>
<circle cx="284.84" cy="440.00" r="1.5" fill="#454b63"/>
<rect x="291.60" y="426.00" width="9.30" height="15.50" fill="#cdced6" />
<line x1="296.25" y1="420.50" x2="296.25" y2="433.00" stroke="#454b63" stroke-width="0.8" />
<line x1="294.65" y1="420.50" x2="297.85" y2="420.50" stroke="#454b63" stroke-width="0.8" />
<line x1="294.65" y1="433.00" x2="297.85" y2="433.00" stroke="#454b63" stroke-width="0.8" />
<rect x="294.90" y="418.65" width="2.7" height="2.7" fill="#454b63"/>
<rect x="294.90" y="424.15" width="2.7" height="2.7" fill="#454b63"/>
<rect x="292.11" y="426.65" width="2.7" height="2.7" fill="#454b63"/>
<rect x="297.69" y="425.65" width="2.7" height="2.7" fill="#454b63"/>
<rect x="292.11" y="429.65" width="2.7" height="2.7" fill="#454b63"/>
<rect x="297.69" y="429.65" width="2.7" height="2.7" fill="#454b63"/>
<rect x="305.30" y="428.20" width="9.30" height="13.30" fill="#cdced6" />
<line x1="309.95" y1="421.50" x2="309.95" y2="434.00" stroke="#454b63" stroke-width="0.8" />
<line x1="308.35" y1="421.50" x2="311.55" y2="421.50" stroke="#454b63" stroke-width="0.8" />
<line x1="308.35" y1="434.00" x2="311.55" y2="434.00" stroke="#454b63" stroke-width="0.8" />
<polygon points="308.30,418.49 311.60,418.49 309.95,415.51" fill="#454b63"/>
<polygon points="305.05,429.99 308.34,429.99 306.69,427.01" fill="#454b63"/>
<polygon points="311.56,430.49 314.85,430.49 313.20,427.51" fill="#454b63"/>
<polygon points="308.30,433.49 311.60,433.49 309.95,430.51" fill="#454b63"/>
<polygon points="305.51,432.99 308.81,432.99 307.16,430.01" fill="#454b63"/>
<rect x="320.10" y="412.90" width="9.30" height="28.60" fill="#cdced6" />
<line x1="324.75" y1="402.50" x2="324.75" y2="420.50" stroke="#454b63" stroke-width="0.8" />
<line x1="323.15" y1="402.50" x2="326.35" y2="402.50" stroke="#454b63" stroke-width="0.8" />
<line x1="323.15" y1="420.50" x2="326.35" y2="420.50" stroke="#454b63" stroke-width="0.8" />
<polygon points="323.10,394.01 326.40,394.01 324.75,396.99" fill="#454b63"/>
<polygon points="323.10,402.51 326.40,402.51 324.75,405.49" fill="#454b63"/>
<polygon points="320.31,413.51 323.61,413.51 321.96,416.49" fill="#454b63"/>
<polygon points="325.89,412.51 329.19,412.51 327.54,415.49" fill="#454b63"/>
<polygon points="323.10,419.51 326.40,419.51 324.75,422.49" fill="#454b63"/>
<polygon points="320.31,417.51 323.61,417.51 321.96,420.49" fill="#454b63"/>
<polygon points="325.89,418.51 329.19,418.51 327.54,421.49" fill="#454b63"/>
<line x1="272.80" y1="378.50" x2="272.80" y2="442.12" stroke="#262626" stroke-width="1.25" />
<line x1="272.18" y1="441.50" x2="334.60" y2="441.50" stroke="#262626" stroke-width="1.25" />
<line x1="270.00" y1="441.50" x2="272.80" y2="441.50" stroke="#262626" stroke-width="0.9" />
<text x="267.80" y="443.84" font-size="6.5" text-anchor="end" fill="#2b2b2b" font-weight="normal" stroke="#2b2b2b" stroke-width="0.18" textLength="3.75" lengthAdjust="spacingAndGlyphs" >0</text>
<line x1="270.00" y1="426.07" x2="272.80" y2="426.07" stroke="#262626" stroke-width="0.9" />
<text x="267.80" y="428.41" font-size="6.5" text-anchor="end" fill="#2b2b2b" font-weight="normal" stroke="#2b2b2b" stroke-width="0.18" textLength="11.25" lengthAdjust="spacingAndGlyphs" >100</text>
<line x1="270.00" y1="410.65" x2="272.80" y2="410.65" stroke="#262626" stroke-width="0.9" />
<text x="267.80" y="412.99" font-size="6.5" text-anchor="end" fill="#2b2b2b" font-weight="normal" stroke="#2b2b2b" stroke-width="0.18" textLength="11.25" lengthAdjust="spacingAndGlyphs" >200</text>
<line x1="270.00" y1="395.23" x2="272.80" y2="395.23" stroke="#262626" stroke-width="0.9" />
<text x="267.80" y="397.56" font-size="6.5" text-anchor="end" fill="#2b2b2b" font-weight="normal" stroke="#2b2b2b" stroke-width="0.18" textLength="11.25" lengthAdjust="spacingAndGlyphs" >300</text>
<line x1="270.00" y1="379.80" x2="272.80" y2="379.80" stroke="#262626" stroke-width="0.9" />
<text x="267.80" y="382.14" font-size="6.5" text-anchor="end" fill="#2b2b2b" font-weight="normal" stroke="#2b2b2b" stroke-width="0.18" textLength="11.25" lengthAdjust="spacingAndGlyphs" >400</text>
<polyline points="296.40,393.60 296.40,389.40 324.80,389.40 324.80,393.60" fill="none" stroke="#262626" stroke-width="0.95"/>
<text x="310.60" y="389.60" font-size="7" text-anchor="middle" fill="#2b2b2b" font-weight="normal" stroke="#2b2b2b" stroke-width="0.18" >*</text>
<text x="275.80" y="386.00" font-size="6.6" text-anchor="start" fill="#2b2b2b" font-weight="normal" stroke="#2b2b2b" stroke-width="0.18" textLength="13.5" lengthAdjust="spacingAndGlyphs" >IFN&#946;</text>
<text x="242.20" y="454.20" font-size="6.5" text-anchor="start" fill="#2b2b2b" font-weight="normal" stroke="#2b2b2b" stroke-width="0.08" textLength="24.6" lengthAdjust="spacingAndGlyphs" >Poly(I:C)</text>
<text x="242.20" y="463.70" font-size="6.5" text-anchor="start" fill="#2b2b2b" font-weight="normal" stroke="#2b2b2b" stroke-width="0.08" textLength="13.4" lengthAdjust="spacingAndGlyphs" >p38i</text>
<text x="242.20" y="473.90" font-size="6.5" text-anchor="start" fill="#2b2b2b" font-weight="normal" stroke="#2b2b2b" stroke-width="0.08" textLength="13.8" lengthAdjust="spacingAndGlyphs" >ERKi</text>
<line x1="281.10" y1="452.30" x2="284.50" y2="452.30" stroke="#444" stroke-width="0.75" />
<line x1="281.10" y1="461.80" x2="284.50" y2="461.80" stroke="#444" stroke-width="0.75" />
<line x1="281.10" y1="472.00" x2="284.50" y2="472.00" stroke="#444" stroke-width="0.75" />
<line x1="294.90" y1="452.30" x2="297.90" y2="452.30" stroke="#333" stroke-width="0.75" />
<line x1="296.40" y1="450.80" x2="296.40" y2="453.80" stroke="#333" stroke-width="0.75" />
<line x1="294.70" y1="461.80" x2="298.10" y2="461.80" stroke="#444" stroke-width="0.75" />
<line x1="294.70" y1="472.00" x2="298.10" y2="472.00" stroke="#444" stroke-width="0.75" />
<line x1="308.90" y1="452.30" x2="311.90" y2="452.30" stroke="#333" stroke-width="0.75" />
<line x1="310.40" y1="450.80" x2="310.40" y2="453.80" stroke="#333" stroke-width="0.75" />
<line x1="308.90" y1="461.80" x2="311.90" y2="461.80" stroke="#333" stroke-width="0.75" />
<line x1="310.40" y1="460.30" x2="310.40" y2="463.30" stroke="#333" stroke-width="0.75" />
<line x1="308.70" y1="472.00" x2="312.10" y2="472.00" stroke="#444" stroke-width="0.75" />
<line x1="323.30" y1="452.30" x2="326.30" y2="452.30" stroke="#333" stroke-width="0.75" />
<line x1="324.80" y1="450.80" x2="324.80" y2="453.80" stroke="#333" stroke-width="0.75" />
<line x1="323.10" y1="461.80" x2="326.50" y2="461.80" stroke="#444" stroke-width="0.75" />
<line x1="323.30" y1="472.00" x2="326.30" y2="472.00" stroke="#333" stroke-width="0.75" />
<line x1="324.80" y1="470.50" x2="324.80" y2="473.50" stroke="#333" stroke-width="0.75" />
<text x="0" y="0" font-size="12.0" font-weight="bold" fill="#111" stroke="#111" stroke-width="0.25" transform="translate(364.35,370.40) scale(0.810,1)">J</text>
<text x="0" y="0" font-size="9.2" text-anchor="middle" fill="#2b2b2b" stroke="#2b2b2b" stroke-width="0.25" transform="translate(380.40,408.90) rotate(-90)" textLength="30.4" lengthAdjust="spacingAndGlyphs">Migration</text>
<text x="0" y="0" font-size="9.2" text-anchor="middle" fill="#2b2b2b" stroke="#2b2b2b" stroke-width="0.25" transform="translate(390.70,408.50) rotate(-90)" textLength="36.9" lengthAdjust="spacingAndGlyphs">% of control</text>
<rect x="417.00" y="427.80" width="9.40" height="13.30" fill="#cdced6" />
<circle cx="417.94" cy="427.50" r="1.5" fill="#454b63"/>
<circle cx="420.76" cy="426.50" r="1.5" fill="#454b63"/>
<circle cx="423.58" cy="427.50" r="1.5" fill="#454b63"/>
<circle cx="425.46" cy="428.00" r="1.5" fill="#454b63"/>
<circle cx="418.88" cy="430.00" r="1.5" fill="#454b63"/>
<circle cx="421.70" cy="430.50" r="1.5" fill="#454b63"/>
<circle cx="424.52" cy="431.50" r="1.5" fill="#454b63"/>
<circle cx="419.82" cy="433.00" r="1.5" fill="#454b63"/>
<circle cx="422.64" cy="433.50" r="1.5" fill="#454b63"/>
<rect x="431.10" y="416.90" width="9.40" height="24.20" fill="#cdced6" />
<line x1="435.80" y1="410.00" x2="435.80" y2="425.00" stroke="#454b63" stroke-width="0.8" />
<line x1="434.20" y1="410.00" x2="437.40" y2="410.00" stroke="#454b63" stroke-width="0.8" />
<line x1="434.20" y1="425.00" x2="437.40" y2="425.00" stroke="#454b63" stroke-width="0.8" />
<rect x="431.63" y="407.65" width="2.7" height="2.7" fill="#454b63"/>
<rect x="434.45" y="408.65" width="2.7" height="2.7" fill="#454b63"/>
<rect x="437.27" y="408.15" width="2.7" height="2.7" fill="#454b63"/>
<rect x="434.45" y="412.15" width="2.7" height="2.7" fill="#454b63"/>
<rect x="431.63" y="417.15" width="2.7" height="2.7" fill="#454b63"/>
<rect x="437.27" y="416.65" width="2.7" height="2.7" fill="#454b63"/>
<rect x="431.63" y="420.65" width="2.7" height="2.7" fill="#454b63"/>
<rect x="434.45" y="422.15" width="2.7" height="2.7" fill="#454b63"/>
<rect x="437.74" y="422.65" width="2.7" height="2.7" fill="#454b63"/>
<rect x="445.20" y="423.10" width="9.40" height="18.00" fill="#cdced6" />
<line x1="449.90" y1="414.00" x2="449.90" y2="431.00" stroke="#454b63" stroke-width="0.8" />
<line x1="448.30" y1="414.00" x2="451.50" y2="414.00" stroke="#454b63" stroke-width="0.8" />
<line x1="448.30" y1="431.00" x2="451.50" y2="431.00" stroke="#454b63" stroke-width="0.8" />
<polygon points="448.25,409.99 451.55,409.99 449.90,407.01" fill="#454b63"/>
<polygon points="448.25,415.49 451.55,415.49 449.90,412.51" fill="#454b63"/>
<polygon points="445.43,421.49 448.73,421.49 447.08,418.51" fill="#454b63"/>
<polygon points="451.07,422.49 454.37,422.49 452.72,419.51" fill="#454b63"/>
<polygon points="445.43,427.49 448.73,427.49 447.08,424.51" fill="#454b63"/>
<polygon points="448.25,427.99 451.55,427.99 449.90,425.01" fill="#454b63"/>
<polygon points="451.07,427.49 454.37,427.49 452.72,424.51" fill="#454b63"/>
<polygon points="448.25,431.49 451.55,431.49 449.90,428.51" fill="#454b63"/>
<rect x="459.20" y="428.60" width="9.40" height="12.50" fill="#cdced6" />
<polygon points="459.43,425.01 462.73,425.01 461.08,427.99" fill="#454b63"/>
<polygon points="462.25,425.51 465.55,425.51 463.90,428.49" fill="#454b63"/>
<polygon points="465.07,425.01 468.37,425.01 466.72,427.99" fill="#454b63"/>
<polygon points="459.43,428.01 462.73,428.01 461.08,430.99" fill="#454b63"/>
<polygon points="462.25,429.01 465.55,429.01 463.90,431.99" fill="#454b63"/>
<polygon points="465.07,428.51 468.37,428.51 466.72,431.49" fill="#454b63"/>
<polygon points="462.25,430.51 465.55,430.51 463.90,433.49" fill="#454b63"/>
<line x1="412.30" y1="378.50" x2="412.30" y2="441.73" stroke="#262626" stroke-width="1.25" />
<line x1="411.68" y1="441.10" x2="473.60" y2="441.10" stroke="#262626" stroke-width="1.25" />
<line x1="409.50" y1="441.10" x2="412.30" y2="441.10" stroke="#262626" stroke-width="0.9" />
<text x="407.30" y="443.44" font-size="6.5" text-anchor="end" fill="#2b2b2b" font-weight="normal" stroke="#2b2b2b" stroke-width="0.18" textLength="3.75" lengthAdjust="spacingAndGlyphs" >0</text>
<line x1="409.50" y1="429.04" x2="412.30" y2="429.04" stroke="#262626" stroke-width="0.9" />
<text x="407.30" y="431.38" font-size="6.5" text-anchor="end" fill="#2b2b2b" font-weight="normal" stroke="#2b2b2b" stroke-width="0.18" textLength="11.25" lengthAdjust="spacingAndGlyphs" >100</text>
<line x1="409.50" y1="416.98" x2="412.30" y2="416.98" stroke="#262626" stroke-width="0.9" />
<text x="407.30" y="419.32" font-size="6.5" text-anchor="end" fill="#2b2b2b" font-weight="normal" stroke="#2b2b2b" stroke-width="0.18" textLength="11.25" lengthAdjust="spacingAndGlyphs" >200</text>
<line x1="409.50" y1="404.92" x2="412.30" y2="404.92" stroke="#262626" stroke-width="0.9" />
<text x="407.30" y="407.26" font-size="6.5" text-anchor="end" fill="#2b2b2b" font-weight="normal" stroke="#2b2b2b" stroke-width="0.18" textLength="11.25" lengthAdjust="spacingAndGlyphs" >300</text>
<line x1="409.50" y1="392.86" x2="412.30" y2="392.86" stroke="#262626" stroke-width="0.9" />
<text x="407.30" y="395.20" font-size="6.5" text-anchor="end" fill="#2b2b2b" font-weight="normal" stroke="#2b2b2b" stroke-width="0.18" textLength="11.25" lengthAdjust="spacingAndGlyphs" >400</text>
<line x1="409.50" y1="380.80" x2="412.30" y2="380.80" stroke="#262626" stroke-width="0.9" />
<text x="407.30" y="383.14" font-size="6.5" text-anchor="end" fill="#2b2b2b" font-weight="normal" stroke="#2b2b2b" stroke-width="0.18" textLength="11.25" lengthAdjust="spacingAndGlyphs" >500</text>
<polyline points="421.00,405.20 421.00,401.30 435.30,401.30 435.30,405.20" fill="none" stroke="#262626" stroke-width="0.95"/>
<text x="428.15" y="401.50" font-size="7" text-anchor="middle" fill="#2b2b2b" font-weight="normal" stroke="#2b2b2b" stroke-width="0.18" >**</text>
<polyline points="421.00,391.90 421.00,388.40 449.10,388.40 449.10,391.90" fill="none" stroke="#262626" stroke-width="0.95"/>
<text x="435.05" y="388.60" font-size="7" text-anchor="middle" fill="#2b2b2b" font-weight="normal" stroke="#2b2b2b" stroke-width="0.18" >*</text>
<polyline points="449.30,405.20 449.30,401.30 463.90,401.30 463.90,405.20" fill="none" stroke="#262626" stroke-width="0.95"/>
<text x="456.60" y="401.50" font-size="7" text-anchor="middle" fill="#2b2b2b" font-weight="normal" stroke="#2b2b2b" stroke-width="0.18" >*</text>
<polyline points="435.30,379.40 435.30,375.50 463.90,375.50 463.90,379.40" fill="none" stroke="#262626" stroke-width="0.95"/>
<text x="449.60" y="375.70" font-size="7" text-anchor="middle" fill="#2b2b2b" font-weight="normal" stroke="#2b2b2b" stroke-width="0.18" >**</text>
<text x="381.50" y="454.20" font-size="6.5" text-anchor="start" fill="#2b2b2b" font-weight="normal" stroke="#2b2b2b" stroke-width="0.08" textLength="24.6" lengthAdjust="spacingAndGlyphs" >Poly(I:C)</text>
<text x="381.50" y="463.70" font-size="6.5" text-anchor="start" fill="#2b2b2b" font-weight="normal" stroke="#2b2b2b" stroke-width="0.08" textLength="13.4" lengthAdjust="spacingAndGlyphs" >p38i</text>
<text x="381.50" y="473.90" font-size="6.5" text-anchor="start" fill="#2b2b2b" font-weight="normal" stroke="#2b2b2b" stroke-width="0.08" textLength="13.8" lengthAdjust="spacingAndGlyphs" >ERKi</text>
<line x1="420.80" y1="452.30" x2="424.20" y2="452.30" stroke="#444" stroke-width="0.75" />
<line x1="420.80" y1="461.80" x2="424.20" y2="461.80" stroke="#444" stroke-width="0.75" />
<line x1="420.80" y1="472.00" x2="424.20" y2="472.00" stroke="#444" stroke-width="0.75" />
<line x1="434.80" y1="452.30" x2="437.80" y2="452.30" stroke="#333" stroke-width="0.75" />
<line x1="436.30" y1="450.80" x2="436.30" y2="453.80" stroke="#333" stroke-width="0.75" />
<line x1="434.60" y1="461.80" x2="438.00" y2="461.80" stroke="#444" stroke-width="0.75" />
<line x1="434.60" y1="472.00" x2="438.00" y2="472.00" stroke="#444" stroke-width="0.75" />
<line x1="448.70" y1="452.30" x2="451.70" y2="452.30" stroke="#333" stroke-width="0.75" />
<line x1="450.20" y1="450.80" x2="450.20" y2="453.80" stroke="#333" stroke-width="0.75" />
<line x1="448.70" y1="461.80" x2="451.70" y2="461.80" stroke="#333" stroke-width="0.75" />
<line x1="450.20" y1="460.30" x2="450.20" y2="463.30" stroke="#333" stroke-width="0.75" />
<line x1="448.50" y1="472.00" x2="451.90" y2="472.00" stroke="#444" stroke-width="0.75" />
<line x1="462.50" y1="452.30" x2="465.50" y2="452.30" stroke="#333" stroke-width="0.75" />
<line x1="464.00" y1="450.80" x2="464.00" y2="453.80" stroke="#333" stroke-width="0.75" />
<line x1="462.30" y1="461.80" x2="465.70" y2="461.80" stroke="#444" stroke-width="0.75" />
<line x1="462.50" y1="472.00" x2="465.50" y2="472.00" stroke="#333" stroke-width="0.75" />
<line x1="464.00" y1="470.50" x2="464.00" y2="473.50" stroke="#333" stroke-width="0.75" />
<rect x="0" y="0" width="520" height="1" fill="#474747"/>
<rect x="0" y="0" width="1.1" height="480" fill="#474747"/>
<rect x="518.9" y="0" width="1.1" height="480" fill="#474747"/>
<rect x="0" y="478.6" width="520" height="1.4" fill="#474747"/>
</svg>
</body></html>
